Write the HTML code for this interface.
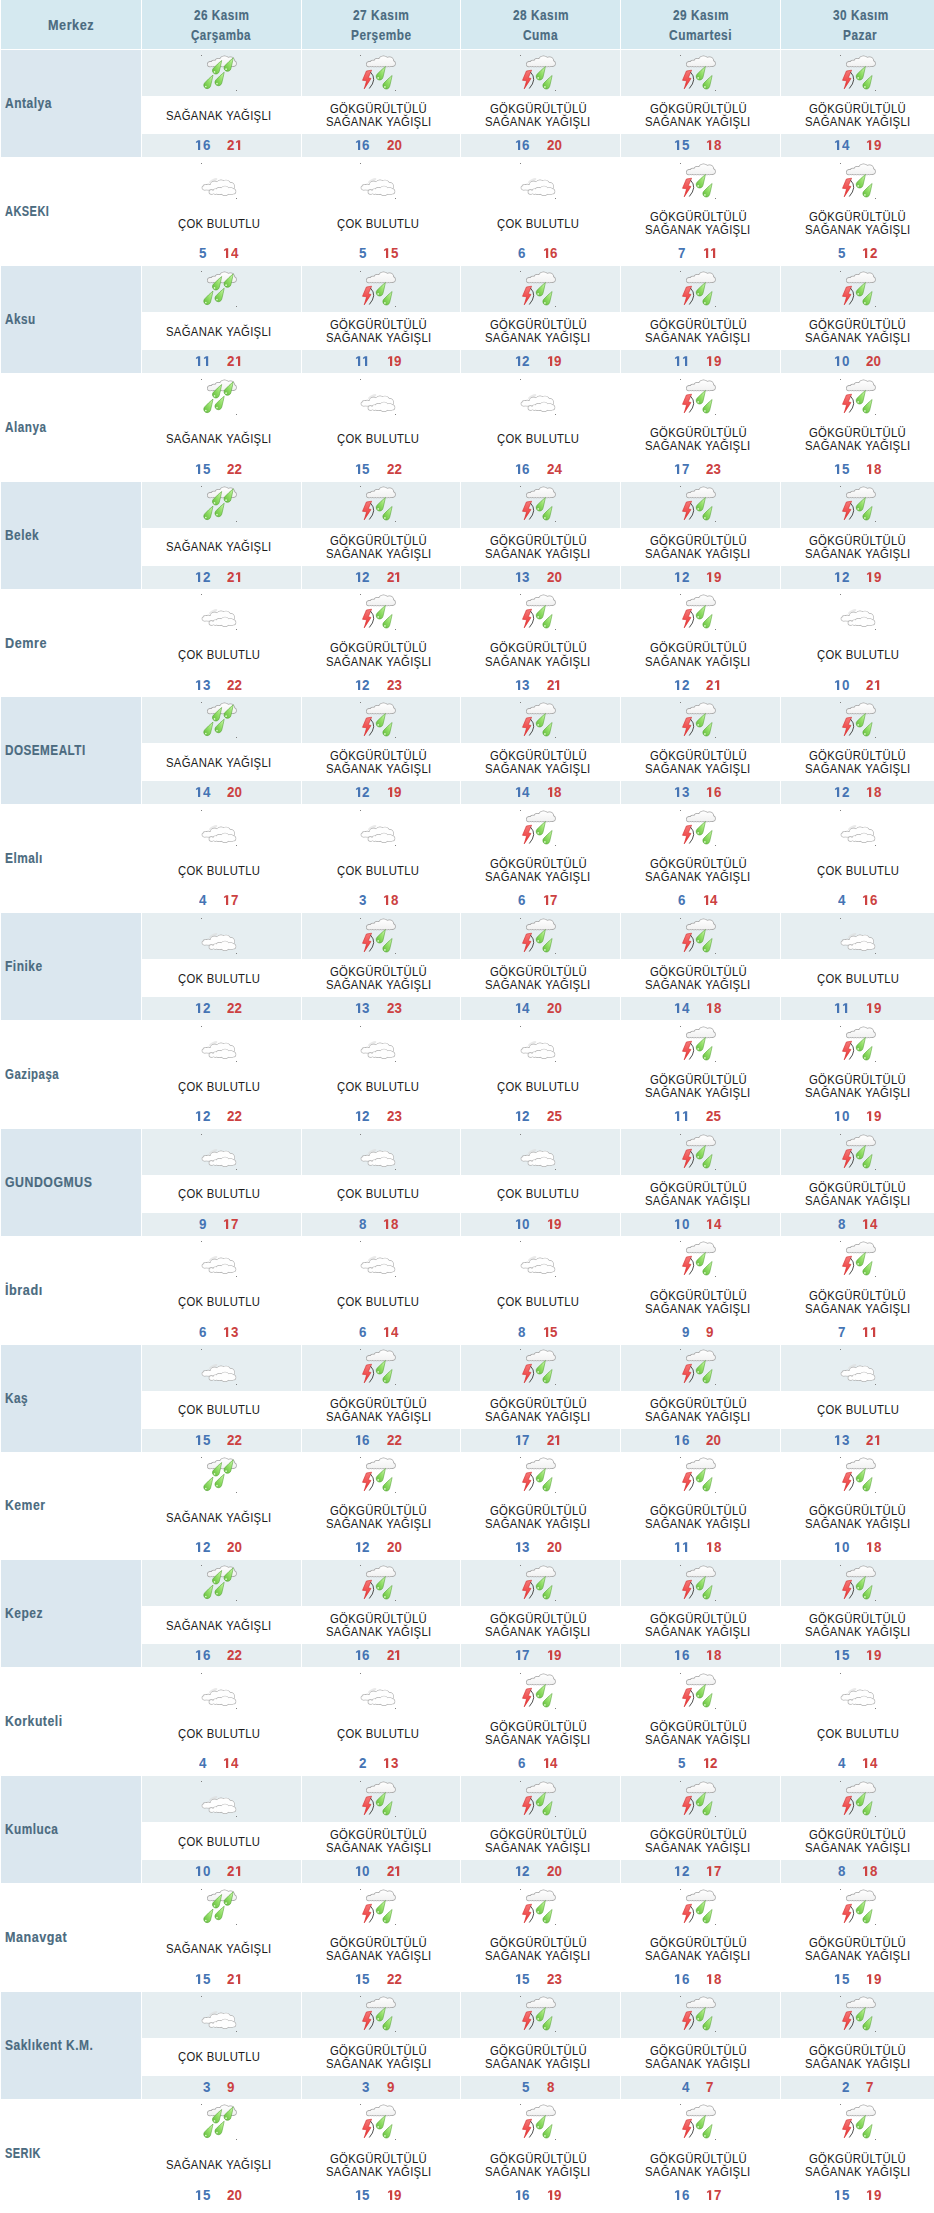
<!DOCTYPE html>
<html lang="tr"><head><meta charset="utf-8"><title>Hava Durumu</title>
<style>
html,body{margin:0;padding:0;background:#fff}
body{width:934px;height:2213px;overflow:hidden;position:relative;font-family:"Liberation Sans",sans-serif}
.a{position:absolute}
.hb{background:#d5e9f0}
.lb{background:#dbe7ef}
.cb{background:#e6eef1}
.h,.l,.d,.lo,.hi{position:absolute;white-space:nowrap;line-height:20px;transform-origin:0 0}
.h,.l{color:#4b6b80;font-weight:bold;font-size:14.3px;letter-spacing:0.6px;-webkit-text-stroke:0.15px #4b6b80}
.d{color:#1a1a1a;font-size:13.0px;letter-spacing:0.35px}
.lo,.hi{font-weight:bold;font-size:14.2px;transform:scaleX(0.9413)}
svg.one{position:absolute;width:8px;height:11px;transform:none;fill:currentColor;overflow:visible}
.lo{color:#4574b4}
.hi{color:#cc4141}
svg.ic{position:absolute;width:36px;height:36px;overflow:visible}
</style></head><body>

<svg width="0" height="0" style="position:absolute"><defs>
<linearGradient id="gd" x1="0" y1="1" x2="1" y2="0"><stop offset="0" stop-color="#5fb83a"/><stop offset="0.5" stop-color="#8fdd64"/><stop offset="1" stop-color="#cdf9ae"/></linearGradient>
<linearGradient id="gr" x1="0" y1="0" x2="0" y2="1"><stop offset="0" stop-color="#f47a7a"/><stop offset="1" stop-color="#ee2a2a"/></linearGradient>
<linearGradient id="gc" gradientUnits="userSpaceOnUse" x1="0" y1="1" x2="0" y2="12"><stop offset="0" stop-color="#ffffff"/><stop offset="1" stop-color="#f0f0f0"/></linearGradient>
<path id="d1" d="M3.0 -9.75 L5.2 -9.75 L5.2 0 L3.0 0 L3.0 -7.75 L0.95 -7.1 L0.95 -8.35 Z"/>
<g id="dr"><path d="M5.80 -10.10 Q4.71 -4.60 3.37 0.75 A3.45 3.45 0 1 1 -2.35 -2.53 Q1.34 -6.54 5.80 -10.10Z" fill="url(#gd)" stroke="#4f9e30" stroke-width="0.55"/><circle cx="-1.4" cy="1.3" r="0.85" fill="#e8ffd8" opacity="0.9"/></g>
<g id="cl"><g fill="#a4a4a4" stroke="#a4a4a4" stroke-width="1.5"><circle cx="9" cy="9.2" r="2.2"/><circle cx="13" cy="8.2" r="2.6"/><circle cx="17.5" cy="7" r="3.3"/><circle cx="23.5" cy="6" r="4.8"/><circle cx="29.5" cy="6" r="3.8"/><circle cx="32.5" cy="8.6" r="2.5"/><circle cx="11.4" cy="10.3" r="1.1"/><circle cx="14" cy="10.4" r="1.1"/><circle cx="16.6" cy="10.4" r="1.1"/><circle cx="19.2" cy="10.4" r="1.1"/><circle cx="21.8" cy="10.4" r="1.1"/><circle cx="24.4" cy="10.4" r="1.1"/><circle cx="27" cy="10.4" r="1.1"/><circle cx="29.6" cy="10.3" r="1.1"/><rect x="9" y="7" width="23.5" height="4.2"/></g><g fill="url(#gc)"><circle cx="9" cy="9.2" r="2.2"/><circle cx="13" cy="8.2" r="2.6"/><circle cx="17.5" cy="7" r="3.3"/><circle cx="23.5" cy="6" r="4.8"/><circle cx="29.5" cy="6" r="3.8"/><circle cx="32.5" cy="8.6" r="2.5"/><circle cx="11.4" cy="10.3" r="1.1"/><circle cx="14" cy="10.4" r="1.1"/><circle cx="16.6" cy="10.4" r="1.1"/><circle cx="19.2" cy="10.4" r="1.1"/><circle cx="21.8" cy="10.4" r="1.1"/><circle cx="24.4" cy="10.4" r="1.1"/><circle cx="27" cy="10.4" r="1.1"/><circle cx="29.6" cy="10.3" r="1.1"/><rect x="9" y="7" width="23.5" height="4.2"/></g></g>
<g id="cc"><g fill="#b2b2b2" stroke="#b2b2b2" stroke-width="1.3"><circle cx="3.2" cy="24.8" r="1.9"/><circle cx="7.3" cy="24.0" r="2.5"/><circle cx="13.5" cy="22.5" r="4"/><circle cx="20" cy="22" r="4.8"/><circle cx="25" cy="22" r="4.7"/><circle cx="29.5" cy="23.5" r="3.8"/><rect x="3.2" y="22" width="27.8" height="4.7"/></g><g fill="#fefefe"><circle cx="3.2" cy="24.8" r="1.9"/><circle cx="7.3" cy="24.0" r="2.5"/><circle cx="13.5" cy="22.5" r="4"/><circle cx="20" cy="22" r="4.8"/><circle cx="25" cy="22" r="4.7"/><circle cx="29.5" cy="23.5" r="3.8"/><rect x="3.2" y="22" width="27.8" height="4.7"/></g><g fill="#b2b2b2" stroke="#b2b2b2" stroke-width="1.3"><circle cx="10.3" cy="29.0" r="2.0"/><circle cx="14.5" cy="28.5" r="2.4"/><circle cx="18.5" cy="28" r="3.3"/><circle cx="24" cy="27.8" r="4.5"/><circle cx="29.5" cy="28.0" r="3.2"/><circle cx="32.3" cy="28.4" r="2.3"/><circle cx="11.7" cy="29.8" r="0.9"/><circle cx="14.2" cy="29.9" r="0.9"/><circle cx="16.7" cy="29.9" r="0.9"/><circle cx="19.2" cy="29.9" r="0.9"/><circle cx="21.7" cy="29.9" r="0.9"/><circle cx="24.2" cy="29.9" r="0.9"/><circle cx="26.7" cy="29.9" r="0.9"/><circle cx="29.2" cy="29.9" r="0.9"/><circle cx="31.5" cy="29.8" r="0.9"/><rect x="10.3" y="28" width="22.0" height="2.4"/></g><g fill="#fefefe"><circle cx="10.3" cy="29.0" r="2.0"/><circle cx="14.5" cy="28.5" r="2.4"/><circle cx="18.5" cy="28" r="3.3"/><circle cx="24" cy="27.8" r="4.5"/><circle cx="29.5" cy="28.0" r="3.2"/><circle cx="32.3" cy="28.4" r="2.3"/><circle cx="11.7" cy="29.8" r="0.9"/><circle cx="14.2" cy="29.9" r="0.9"/><circle cx="16.7" cy="29.9" r="0.9"/><circle cx="19.2" cy="29.9" r="0.9"/><circle cx="21.7" cy="29.9" r="0.9"/><circle cx="24.2" cy="29.9" r="0.9"/><circle cx="26.7" cy="29.9" r="0.9"/><circle cx="29.2" cy="29.9" r="0.9"/><circle cx="31.5" cy="29.8" r="0.9"/><rect x="10.3" y="28" width="22.0" height="2.4"/></g></g>
</defs></svg>

<div class="a hb" style="left:1px;top:0;width:140px;height:49px"></div>
<div class="h" style="left:48.01px;top:15px;transform:scaleX(0.8857)">Merkez</div>
<div class="a hb" style="left:142px;top:0;width:159px;height:49px"></div>
<div class="h" style="left:193.80px;top:5px;transform:scaleX(0.8205)">26 Kasım</div>
<div class="h" style="left:191.09px;top:25px;transform:scaleX(0.8114)">Çarşamba</div>
<div class="a hb" style="left:302px;top:0;width:158px;height:49px"></div>
<div class="h" style="left:353.14px;top:5px;transform:scaleX(0.8327)">27 Kasım</div>
<div class="h" style="left:350.57px;top:25px;transform:scaleX(0.8281)">Perşembe</div>
<div class="a hb" style="left:461px;top:0;width:159px;height:49px"></div>
<div class="h" style="left:513.04px;top:5px;transform:scaleX(0.8281)">28 Kasım</div>
<div class="h" style="left:523.07px;top:25px;transform:scaleX(0.8321)">Cuma</div>
<div class="a hb" style="left:621px;top:0;width:159px;height:49px"></div>
<div class="h" style="left:672.79px;top:5px;transform:scaleX(0.8281)">29 Kasım</div>
<div class="h" style="left:669.27px;top:25px;transform:scaleX(0.8366)">Cumartesi</div>
<div class="a hb" style="left:781px;top:0;width:153px;height:49px"></div>
<div class="h" style="left:832.66px;top:5px;transform:scaleX(0.8263)">30 Kasım</div>
<div class="h" style="left:842.97px;top:25px;transform:scaleX(0.8296)">Pazar</div>
<div class="a lb" style="left:1px;top:50px;width:140px;height:107px"></div>
<div class="a cb" style="left:142px;top:50px;width:159px;height:46px"></div>
<div class="a cb" style="left:142px;top:134px;width:159px;height:23px"></div>
<div class="a cb" style="left:302px;top:50px;width:158px;height:46px"></div>
<div class="a cb" style="left:302px;top:134px;width:158px;height:23px"></div>
<div class="a cb" style="left:461px;top:50px;width:159px;height:46px"></div>
<div class="a cb" style="left:461px;top:134px;width:159px;height:23px"></div>
<div class="a cb" style="left:621px;top:50px;width:159px;height:46px"></div>
<div class="a cb" style="left:621px;top:134px;width:159px;height:23px"></div>
<div class="a cb" style="left:781px;top:50px;width:153px;height:46px"></div>
<div class="a cb" style="left:781px;top:134px;width:153px;height:23px"></div>
<div class="l" style="left:5.44px;top:93px;transform:scaleX(0.8410)">Antalya</div>
<svg class="ic" style="left:201px;top:55px" viewBox="0 0 36 36"><rect x="0" y="0" width="1" height="1" fill="#808080"/><rect x="35" y="35" width="1" height="1" fill="#808080"/><use href="#cl"/><use href="#dr" x="14.9" y="15.6"/><use href="#dr" x="26.5" y="12.9"/><use href="#dr" x="6.2" y="30.2"/><use href="#dr" x="17.4" y="27.3"/></svg>
<div class="d" style="left:166.18px;top:106px;transform:scaleX(0.8712)">SAĞANAK YAĞIŞLI</div>
<svg class="one lo" style="left:195.07px;top:139px" viewBox="0 -11 8 11"><use href="#d1"/></svg>
<div class="lo" style="left:202.50px;top:135px">6</div>
<div class="hi" style="left:227.17px;top:135px">2</div>
<svg class="one hi" style="left:234.60px;top:139px" viewBox="0 -11 8 11"><use href="#d1"/></svg>
<svg class="ic" style="left:360px;top:55px" viewBox="0 0 36 36"><rect x="0" y="0" width="1" height="1" fill="#808080"/><rect x="35" y="35" width="1" height="1" fill="#808080"/><use href="#cl"/><path d="M6.4 16.0 L11.6 15.2 L8.3 22.7 L11.0 23.5 L4.2 33.9 L6.6 25.8 L2.5 25.3 Z" fill="url(#gr)" stroke="#d42c2c" stroke-width="0.6" stroke-linejoin="round"/><path d="M10.6 17.2 Q17.4 24.2 9.3 33.5" fill="none" stroke="#3c3c3c" stroke-width="0.9"/><use href="#dr" x="19.6" y="21.6"/><use href="#dr" x="26.3" y="30.6"/></svg>
<div class="d" style="left:330.08px;top:99px;transform:scaleX(0.8700)">GÖKGÜRÜLTÜLÜ</div>
<div class="d" style="left:325.73px;top:112px;transform:scaleX(0.8712)">SAĞANAK YAĞIŞLI</div>
<svg class="one lo" style="left:354.82px;top:139px" viewBox="0 -11 8 11"><use href="#d1"/></svg>
<div class="lo" style="left:362.25px;top:135px">6</div>
<div class="hi" style="left:386.92px;top:135px">20</div>
<svg class="ic" style="left:520px;top:55px" viewBox="0 0 36 36"><rect x="0" y="0" width="1" height="1" fill="#808080"/><rect x="35" y="35" width="1" height="1" fill="#808080"/><use href="#cl"/><path d="M6.4 16.0 L11.6 15.2 L8.3 22.7 L11.0 23.5 L4.2 33.9 L6.6 25.8 L2.5 25.3 Z" fill="url(#gr)" stroke="#d42c2c" stroke-width="0.6" stroke-linejoin="round"/><path d="M10.6 17.2 Q17.4 24.2 9.3 33.5" fill="none" stroke="#3c3c3c" stroke-width="0.9"/><use href="#dr" x="19.6" y="21.6"/><use href="#dr" x="26.3" y="30.6"/></svg>
<div class="d" style="left:489.83px;top:99px;transform:scaleX(0.8700)">GÖKGÜRÜLTÜLÜ</div>
<div class="d" style="left:485.48px;top:112px;transform:scaleX(0.8712)">SAĞANAK YAĞIŞLI</div>
<svg class="one lo" style="left:514.57px;top:139px" viewBox="0 -11 8 11"><use href="#d1"/></svg>
<div class="lo" style="left:522.00px;top:135px">6</div>
<div class="hi" style="left:546.67px;top:135px">20</div>
<svg class="ic" style="left:680px;top:55px" viewBox="0 0 36 36"><rect x="0" y="0" width="1" height="1" fill="#808080"/><rect x="35" y="35" width="1" height="1" fill="#808080"/><use href="#cl"/><path d="M6.4 16.0 L11.6 15.2 L8.3 22.7 L11.0 23.5 L4.2 33.9 L6.6 25.8 L2.5 25.3 Z" fill="url(#gr)" stroke="#d42c2c" stroke-width="0.6" stroke-linejoin="round"/><path d="M10.6 17.2 Q17.4 24.2 9.3 33.5" fill="none" stroke="#3c3c3c" stroke-width="0.9"/><use href="#dr" x="19.6" y="21.6"/><use href="#dr" x="26.3" y="30.6"/></svg>
<div class="d" style="left:649.58px;top:99px;transform:scaleX(0.8700)">GÖKGÜRÜLTÜLÜ</div>
<div class="d" style="left:645.23px;top:112px;transform:scaleX(0.8712)">SAĞANAK YAĞIŞLI</div>
<svg class="one lo" style="left:674.32px;top:139px" viewBox="0 -11 8 11"><use href="#d1"/></svg>
<div class="lo" style="left:681.75px;top:135px">5</div>
<svg class="one hi" style="left:706.42px;top:139px" viewBox="0 -11 8 11"><use href="#d1"/></svg>
<div class="hi" style="left:713.85px;top:135px">8</div>
<svg class="ic" style="left:840px;top:55px" viewBox="0 0 36 36"><rect x="0" y="0" width="1" height="1" fill="#808080"/><rect x="35" y="35" width="1" height="1" fill="#808080"/><use href="#cl"/><path d="M6.4 16.0 L11.6 15.2 L8.3 22.7 L11.0 23.5 L4.2 33.9 L6.6 25.8 L2.5 25.3 Z" fill="url(#gr)" stroke="#d42c2c" stroke-width="0.6" stroke-linejoin="round"/><path d="M10.6 17.2 Q17.4 24.2 9.3 33.5" fill="none" stroke="#3c3c3c" stroke-width="0.9"/><use href="#dr" x="19.6" y="21.6"/><use href="#dr" x="26.3" y="30.6"/></svg>
<div class="d" style="left:809.33px;top:99px;transform:scaleX(0.8700)">GÖKGÜRÜLTÜLÜ</div>
<div class="d" style="left:804.98px;top:112px;transform:scaleX(0.8712)">SAĞANAK YAĞIŞLI</div>
<svg class="one lo" style="left:834.07px;top:139px" viewBox="0 -11 8 11"><use href="#d1"/></svg>
<div class="lo" style="left:841.50px;top:135px">4</div>
<svg class="one hi" style="left:866.17px;top:139px" viewBox="0 -11 8 11"><use href="#d1"/></svg>
<div class="hi" style="left:873.60px;top:135px">9</div>
<div class="l" style="left:5.47px;top:201px;transform:scaleX(0.7695)">AKSEKI</div>
<svg class="ic" style="left:201px;top:163px" viewBox="0 0 36 36"><rect x="0" y="0" width="1" height="1" fill="#808080"/><rect x="35" y="35" width="1" height="1" fill="#808080"/><ellipse cx="12.2" cy="17.6" rx="4.6" ry="1.6" transform="rotate(-28 12.2 17.6)" fill="#dcdcdc" opacity="0.6"/><use href="#cc"/></svg>
<div class="d" style="left:177.74px;top:214px;transform:scaleX(0.8674)">ÇOK BULUTLU</div>
<div class="lo" style="left:198.78px;top:243px">5</div>
<svg class="one hi" style="left:223.45px;top:247px" viewBox="0 -11 8 11"><use href="#d1"/></svg>
<div class="hi" style="left:230.88px;top:243px">4</div>
<svg class="ic" style="left:360px;top:163px" viewBox="0 0 36 36"><rect x="0" y="0" width="1" height="1" fill="#808080"/><rect x="35" y="35" width="1" height="1" fill="#808080"/><ellipse cx="12.2" cy="17.6" rx="4.6" ry="1.6" transform="rotate(-28 12.2 17.6)" fill="#dcdcdc" opacity="0.6"/><use href="#cc"/></svg>
<div class="d" style="left:337.49px;top:214px;transform:scaleX(0.8674)">ÇOK BULUTLU</div>
<div class="lo" style="left:358.53px;top:243px">5</div>
<svg class="one hi" style="left:383.20px;top:247px" viewBox="0 -11 8 11"><use href="#d1"/></svg>
<div class="hi" style="left:390.63px;top:243px">5</div>
<svg class="ic" style="left:520px;top:163px" viewBox="0 0 36 36"><rect x="0" y="0" width="1" height="1" fill="#808080"/><rect x="35" y="35" width="1" height="1" fill="#808080"/><ellipse cx="12.2" cy="17.6" rx="4.6" ry="1.6" transform="rotate(-28 12.2 17.6)" fill="#dcdcdc" opacity="0.6"/><use href="#cc"/></svg>
<div class="d" style="left:497.24px;top:214px;transform:scaleX(0.8674)">ÇOK BULUTLU</div>
<div class="lo" style="left:518.28px;top:243px">6</div>
<svg class="one hi" style="left:542.95px;top:247px" viewBox="0 -11 8 11"><use href="#d1"/></svg>
<div class="hi" style="left:550.38px;top:243px">6</div>
<svg class="ic" style="left:680px;top:163px" viewBox="0 0 36 36"><rect x="0" y="0" width="1" height="1" fill="#808080"/><rect x="35" y="35" width="1" height="1" fill="#808080"/><use href="#cl"/><path d="M6.4 16.0 L11.6 15.2 L8.3 22.7 L11.0 23.5 L4.2 33.9 L6.6 25.8 L2.5 25.3 Z" fill="url(#gr)" stroke="#d42c2c" stroke-width="0.6" stroke-linejoin="round"/><path d="M10.6 17.2 Q17.4 24.2 9.3 33.5" fill="none" stroke="#3c3c3c" stroke-width="0.9"/><use href="#dr" x="19.6" y="21.6"/><use href="#dr" x="26.3" y="30.6"/></svg>
<div class="d" style="left:649.58px;top:207px;transform:scaleX(0.8700)">GÖKGÜRÜLTÜLÜ</div>
<div class="d" style="left:645.23px;top:220px;transform:scaleX(0.8712)">SAĞANAK YAĞIŞLI</div>
<div class="lo" style="left:678.03px;top:243px">7</div>
<svg class="one hi" style="left:702.70px;top:247px" viewBox="0 -11 8 11"><use href="#d1"/></svg>
<svg class="one hi" style="left:710.13px;top:247px" viewBox="0 -11 8 11"><use href="#d1"/></svg>
<svg class="ic" style="left:840px;top:163px" viewBox="0 0 36 36"><rect x="0" y="0" width="1" height="1" fill="#808080"/><rect x="35" y="35" width="1" height="1" fill="#808080"/><use href="#cl"/><path d="M6.4 16.0 L11.6 15.2 L8.3 22.7 L11.0 23.5 L4.2 33.9 L6.6 25.8 L2.5 25.3 Z" fill="url(#gr)" stroke="#d42c2c" stroke-width="0.6" stroke-linejoin="round"/><path d="M10.6 17.2 Q17.4 24.2 9.3 33.5" fill="none" stroke="#3c3c3c" stroke-width="0.9"/><use href="#dr" x="19.6" y="21.6"/><use href="#dr" x="26.3" y="30.6"/></svg>
<div class="d" style="left:809.33px;top:207px;transform:scaleX(0.8700)">GÖKGÜRÜLTÜLÜ</div>
<div class="d" style="left:804.98px;top:220px;transform:scaleX(0.8712)">SAĞANAK YAĞIŞLI</div>
<div class="lo" style="left:837.78px;top:243px">5</div>
<svg class="one hi" style="left:862.45px;top:247px" viewBox="0 -11 8 11"><use href="#d1"/></svg>
<div class="hi" style="left:869.88px;top:243px">2</div>
<div class="a lb" style="left:1px;top:266px;width:140px;height:107px"></div>
<div class="a cb" style="left:142px;top:266px;width:159px;height:46px"></div>
<div class="a cb" style="left:142px;top:350px;width:159px;height:23px"></div>
<div class="a cb" style="left:302px;top:266px;width:158px;height:46px"></div>
<div class="a cb" style="left:302px;top:350px;width:158px;height:23px"></div>
<div class="a cb" style="left:461px;top:266px;width:159px;height:46px"></div>
<div class="a cb" style="left:461px;top:350px;width:159px;height:23px"></div>
<div class="a cb" style="left:621px;top:266px;width:159px;height:46px"></div>
<div class="a cb" style="left:621px;top:350px;width:159px;height:23px"></div>
<div class="a cb" style="left:781px;top:266px;width:153px;height:46px"></div>
<div class="a cb" style="left:781px;top:350px;width:153px;height:23px"></div>
<div class="l" style="left:5.45px;top:309px;transform:scaleX(0.8219)">Aksu</div>
<svg class="ic" style="left:201px;top:271px" viewBox="0 0 36 36"><rect x="0" y="0" width="1" height="1" fill="#808080"/><rect x="35" y="35" width="1" height="1" fill="#808080"/><use href="#cl"/><use href="#dr" x="14.9" y="15.6"/><use href="#dr" x="26.5" y="12.9"/><use href="#dr" x="6.2" y="30.2"/><use href="#dr" x="17.4" y="27.3"/></svg>
<div class="d" style="left:166.18px;top:322px;transform:scaleX(0.8712)">SAĞANAK YAĞIŞLI</div>
<svg class="one lo" style="left:195.07px;top:355px" viewBox="0 -11 8 11"><use href="#d1"/></svg>
<svg class="one lo" style="left:202.50px;top:355px" viewBox="0 -11 8 11"><use href="#d1"/></svg>
<div class="hi" style="left:227.17px;top:351px">2</div>
<svg class="one hi" style="left:234.60px;top:355px" viewBox="0 -11 8 11"><use href="#d1"/></svg>
<svg class="ic" style="left:360px;top:271px" viewBox="0 0 36 36"><rect x="0" y="0" width="1" height="1" fill="#808080"/><rect x="35" y="35" width="1" height="1" fill="#808080"/><use href="#cl"/><path d="M6.4 16.0 L11.6 15.2 L8.3 22.7 L11.0 23.5 L4.2 33.9 L6.6 25.8 L2.5 25.3 Z" fill="url(#gr)" stroke="#d42c2c" stroke-width="0.6" stroke-linejoin="round"/><path d="M10.6 17.2 Q17.4 24.2 9.3 33.5" fill="none" stroke="#3c3c3c" stroke-width="0.9"/><use href="#dr" x="19.6" y="21.6"/><use href="#dr" x="26.3" y="30.6"/></svg>
<div class="d" style="left:330.08px;top:315px;transform:scaleX(0.8700)">GÖKGÜRÜLTÜLÜ</div>
<div class="d" style="left:325.73px;top:328px;transform:scaleX(0.8712)">SAĞANAK YAĞIŞLI</div>
<svg class="one lo" style="left:354.82px;top:355px" viewBox="0 -11 8 11"><use href="#d1"/></svg>
<svg class="one lo" style="left:362.25px;top:355px" viewBox="0 -11 8 11"><use href="#d1"/></svg>
<svg class="one hi" style="left:386.92px;top:355px" viewBox="0 -11 8 11"><use href="#d1"/></svg>
<div class="hi" style="left:394.35px;top:351px">9</div>
<svg class="ic" style="left:520px;top:271px" viewBox="0 0 36 36"><rect x="0" y="0" width="1" height="1" fill="#808080"/><rect x="35" y="35" width="1" height="1" fill="#808080"/><use href="#cl"/><path d="M6.4 16.0 L11.6 15.2 L8.3 22.7 L11.0 23.5 L4.2 33.9 L6.6 25.8 L2.5 25.3 Z" fill="url(#gr)" stroke="#d42c2c" stroke-width="0.6" stroke-linejoin="round"/><path d="M10.6 17.2 Q17.4 24.2 9.3 33.5" fill="none" stroke="#3c3c3c" stroke-width="0.9"/><use href="#dr" x="19.6" y="21.6"/><use href="#dr" x="26.3" y="30.6"/></svg>
<div class="d" style="left:489.83px;top:315px;transform:scaleX(0.8700)">GÖKGÜRÜLTÜLÜ</div>
<div class="d" style="left:485.48px;top:328px;transform:scaleX(0.8712)">SAĞANAK YAĞIŞLI</div>
<svg class="one lo" style="left:514.57px;top:355px" viewBox="0 -11 8 11"><use href="#d1"/></svg>
<div class="lo" style="left:522.00px;top:351px">2</div>
<svg class="one hi" style="left:546.67px;top:355px" viewBox="0 -11 8 11"><use href="#d1"/></svg>
<div class="hi" style="left:554.10px;top:351px">9</div>
<svg class="ic" style="left:680px;top:271px" viewBox="0 0 36 36"><rect x="0" y="0" width="1" height="1" fill="#808080"/><rect x="35" y="35" width="1" height="1" fill="#808080"/><use href="#cl"/><path d="M6.4 16.0 L11.6 15.2 L8.3 22.7 L11.0 23.5 L4.2 33.9 L6.6 25.8 L2.5 25.3 Z" fill="url(#gr)" stroke="#d42c2c" stroke-width="0.6" stroke-linejoin="round"/><path d="M10.6 17.2 Q17.4 24.2 9.3 33.5" fill="none" stroke="#3c3c3c" stroke-width="0.9"/><use href="#dr" x="19.6" y="21.6"/><use href="#dr" x="26.3" y="30.6"/></svg>
<div class="d" style="left:649.58px;top:315px;transform:scaleX(0.8700)">GÖKGÜRÜLTÜLÜ</div>
<div class="d" style="left:645.23px;top:328px;transform:scaleX(0.8712)">SAĞANAK YAĞIŞLI</div>
<svg class="one lo" style="left:674.32px;top:355px" viewBox="0 -11 8 11"><use href="#d1"/></svg>
<svg class="one lo" style="left:681.75px;top:355px" viewBox="0 -11 8 11"><use href="#d1"/></svg>
<svg class="one hi" style="left:706.42px;top:355px" viewBox="0 -11 8 11"><use href="#d1"/></svg>
<div class="hi" style="left:713.85px;top:351px">9</div>
<svg class="ic" style="left:840px;top:271px" viewBox="0 0 36 36"><rect x="0" y="0" width="1" height="1" fill="#808080"/><rect x="35" y="35" width="1" height="1" fill="#808080"/><use href="#cl"/><path d="M6.4 16.0 L11.6 15.2 L8.3 22.7 L11.0 23.5 L4.2 33.9 L6.6 25.8 L2.5 25.3 Z" fill="url(#gr)" stroke="#d42c2c" stroke-width="0.6" stroke-linejoin="round"/><path d="M10.6 17.2 Q17.4 24.2 9.3 33.5" fill="none" stroke="#3c3c3c" stroke-width="0.9"/><use href="#dr" x="19.6" y="21.6"/><use href="#dr" x="26.3" y="30.6"/></svg>
<div class="d" style="left:809.33px;top:315px;transform:scaleX(0.8700)">GÖKGÜRÜLTÜLÜ</div>
<div class="d" style="left:804.98px;top:328px;transform:scaleX(0.8712)">SAĞANAK YAĞIŞLI</div>
<svg class="one lo" style="left:834.07px;top:355px" viewBox="0 -11 8 11"><use href="#d1"/></svg>
<div class="lo" style="left:841.50px;top:351px">0</div>
<div class="hi" style="left:866.17px;top:351px">20</div>
<div class="l" style="left:5.45px;top:417px;transform:scaleX(0.8226)">Alanya</div>
<svg class="ic" style="left:201px;top:379px" viewBox="0 0 36 36"><rect x="0" y="0" width="1" height="1" fill="#808080"/><rect x="35" y="35" width="1" height="1" fill="#808080"/><use href="#cl"/><use href="#dr" x="14.9" y="15.6"/><use href="#dr" x="26.5" y="12.9"/><use href="#dr" x="6.2" y="30.2"/><use href="#dr" x="17.4" y="27.3"/></svg>
<div class="d" style="left:166.18px;top:429px;transform:scaleX(0.8712)">SAĞANAK YAĞIŞLI</div>
<svg class="one lo" style="left:195.07px;top:463px" viewBox="0 -11 8 11"><use href="#d1"/></svg>
<div class="lo" style="left:202.50px;top:459px">5</div>
<div class="hi" style="left:227.17px;top:459px">22</div>
<svg class="ic" style="left:360px;top:379px" viewBox="0 0 36 36"><rect x="0" y="0" width="1" height="1" fill="#808080"/><rect x="35" y="35" width="1" height="1" fill="#808080"/><ellipse cx="12.2" cy="17.6" rx="4.6" ry="1.6" transform="rotate(-28 12.2 17.6)" fill="#dcdcdc" opacity="0.6"/><use href="#cc"/></svg>
<div class="d" style="left:337.49px;top:429px;transform:scaleX(0.8674)">ÇOK BULUTLU</div>
<svg class="one lo" style="left:354.82px;top:463px" viewBox="0 -11 8 11"><use href="#d1"/></svg>
<div class="lo" style="left:362.25px;top:459px">5</div>
<div class="hi" style="left:386.92px;top:459px">22</div>
<svg class="ic" style="left:520px;top:379px" viewBox="0 0 36 36"><rect x="0" y="0" width="1" height="1" fill="#808080"/><rect x="35" y="35" width="1" height="1" fill="#808080"/><ellipse cx="12.2" cy="17.6" rx="4.6" ry="1.6" transform="rotate(-28 12.2 17.6)" fill="#dcdcdc" opacity="0.6"/><use href="#cc"/></svg>
<div class="d" style="left:497.24px;top:429px;transform:scaleX(0.8674)">ÇOK BULUTLU</div>
<svg class="one lo" style="left:514.57px;top:463px" viewBox="0 -11 8 11"><use href="#d1"/></svg>
<div class="lo" style="left:522.00px;top:459px">6</div>
<div class="hi" style="left:546.67px;top:459px">24</div>
<svg class="ic" style="left:680px;top:379px" viewBox="0 0 36 36"><rect x="0" y="0" width="1" height="1" fill="#808080"/><rect x="35" y="35" width="1" height="1" fill="#808080"/><use href="#cl"/><path d="M6.4 16.0 L11.6 15.2 L8.3 22.7 L11.0 23.5 L4.2 33.9 L6.6 25.8 L2.5 25.3 Z" fill="url(#gr)" stroke="#d42c2c" stroke-width="0.6" stroke-linejoin="round"/><path d="M10.6 17.2 Q17.4 24.2 9.3 33.5" fill="none" stroke="#3c3c3c" stroke-width="0.9"/><use href="#dr" x="19.6" y="21.6"/><use href="#dr" x="26.3" y="30.6"/></svg>
<div class="d" style="left:649.58px;top:423px;transform:scaleX(0.8700)">GÖKGÜRÜLTÜLÜ</div>
<div class="d" style="left:645.23px;top:436px;transform:scaleX(0.8712)">SAĞANAK YAĞIŞLI</div>
<svg class="one lo" style="left:674.32px;top:463px" viewBox="0 -11 8 11"><use href="#d1"/></svg>
<div class="lo" style="left:681.75px;top:459px">7</div>
<div class="hi" style="left:706.42px;top:459px">23</div>
<svg class="ic" style="left:840px;top:379px" viewBox="0 0 36 36"><rect x="0" y="0" width="1" height="1" fill="#808080"/><rect x="35" y="35" width="1" height="1" fill="#808080"/><use href="#cl"/><path d="M6.4 16.0 L11.6 15.2 L8.3 22.7 L11.0 23.5 L4.2 33.9 L6.6 25.8 L2.5 25.3 Z" fill="url(#gr)" stroke="#d42c2c" stroke-width="0.6" stroke-linejoin="round"/><path d="M10.6 17.2 Q17.4 24.2 9.3 33.5" fill="none" stroke="#3c3c3c" stroke-width="0.9"/><use href="#dr" x="19.6" y="21.6"/><use href="#dr" x="26.3" y="30.6"/></svg>
<div class="d" style="left:809.33px;top:423px;transform:scaleX(0.8700)">GÖKGÜRÜLTÜLÜ</div>
<div class="d" style="left:804.98px;top:436px;transform:scaleX(0.8712)">SAĞANAK YAĞIŞLI</div>
<svg class="one lo" style="left:834.07px;top:463px" viewBox="0 -11 8 11"><use href="#d1"/></svg>
<div class="lo" style="left:841.50px;top:459px">5</div>
<svg class="one hi" style="left:866.17px;top:463px" viewBox="0 -11 8 11"><use href="#d1"/></svg>
<div class="hi" style="left:873.60px;top:459px">8</div>
<div class="a lb" style="left:1px;top:482px;width:140px;height:107px"></div>
<div class="a cb" style="left:142px;top:482px;width:159px;height:46px"></div>
<div class="a cb" style="left:142px;top:566px;width:159px;height:23px"></div>
<div class="a cb" style="left:302px;top:482px;width:158px;height:46px"></div>
<div class="a cb" style="left:302px;top:566px;width:158px;height:23px"></div>
<div class="a cb" style="left:461px;top:482px;width:159px;height:46px"></div>
<div class="a cb" style="left:461px;top:566px;width:159px;height:23px"></div>
<div class="a cb" style="left:621px;top:482px;width:159px;height:46px"></div>
<div class="a cb" style="left:621px;top:566px;width:159px;height:23px"></div>
<div class="a cb" style="left:781px;top:482px;width:153px;height:46px"></div>
<div class="a cb" style="left:781px;top:566px;width:153px;height:23px"></div>
<div class="l" style="left:4.97px;top:525px;transform:scaleX(0.8287)">Belek</div>
<svg class="ic" style="left:201px;top:486px" viewBox="0 0 36 36"><rect x="0" y="0" width="1" height="1" fill="#808080"/><rect x="35" y="35" width="1" height="1" fill="#808080"/><use href="#cl"/><use href="#dr" x="14.9" y="15.6"/><use href="#dr" x="26.5" y="12.9"/><use href="#dr" x="6.2" y="30.2"/><use href="#dr" x="17.4" y="27.3"/></svg>
<div class="d" style="left:166.18px;top:537px;transform:scaleX(0.8712)">SAĞANAK YAĞIŞLI</div>
<svg class="one lo" style="left:195.07px;top:571px" viewBox="0 -11 8 11"><use href="#d1"/></svg>
<div class="lo" style="left:202.50px;top:567px">2</div>
<div class="hi" style="left:227.17px;top:567px">2</div>
<svg class="one hi" style="left:234.60px;top:571px" viewBox="0 -11 8 11"><use href="#d1"/></svg>
<svg class="ic" style="left:360px;top:486px" viewBox="0 0 36 36"><rect x="0" y="0" width="1" height="1" fill="#808080"/><rect x="35" y="35" width="1" height="1" fill="#808080"/><use href="#cl"/><path d="M6.4 16.0 L11.6 15.2 L8.3 22.7 L11.0 23.5 L4.2 33.9 L6.6 25.8 L2.5 25.3 Z" fill="url(#gr)" stroke="#d42c2c" stroke-width="0.6" stroke-linejoin="round"/><path d="M10.6 17.2 Q17.4 24.2 9.3 33.5" fill="none" stroke="#3c3c3c" stroke-width="0.9"/><use href="#dr" x="19.6" y="21.6"/><use href="#dr" x="26.3" y="30.6"/></svg>
<div class="d" style="left:330.08px;top:531px;transform:scaleX(0.8700)">GÖKGÜRÜLTÜLÜ</div>
<div class="d" style="left:325.73px;top:544px;transform:scaleX(0.8712)">SAĞANAK YAĞIŞLI</div>
<svg class="one lo" style="left:354.82px;top:571px" viewBox="0 -11 8 11"><use href="#d1"/></svg>
<div class="lo" style="left:362.25px;top:567px">2</div>
<div class="hi" style="left:386.92px;top:567px">2</div>
<svg class="one hi" style="left:394.35px;top:571px" viewBox="0 -11 8 11"><use href="#d1"/></svg>
<svg class="ic" style="left:520px;top:486px" viewBox="0 0 36 36"><rect x="0" y="0" width="1" height="1" fill="#808080"/><rect x="35" y="35" width="1" height="1" fill="#808080"/><use href="#cl"/><path d="M6.4 16.0 L11.6 15.2 L8.3 22.7 L11.0 23.5 L4.2 33.9 L6.6 25.8 L2.5 25.3 Z" fill="url(#gr)" stroke="#d42c2c" stroke-width="0.6" stroke-linejoin="round"/><path d="M10.6 17.2 Q17.4 24.2 9.3 33.5" fill="none" stroke="#3c3c3c" stroke-width="0.9"/><use href="#dr" x="19.6" y="21.6"/><use href="#dr" x="26.3" y="30.6"/></svg>
<div class="d" style="left:489.83px;top:531px;transform:scaleX(0.8700)">GÖKGÜRÜLTÜLÜ</div>
<div class="d" style="left:485.48px;top:544px;transform:scaleX(0.8712)">SAĞANAK YAĞIŞLI</div>
<svg class="one lo" style="left:514.57px;top:571px" viewBox="0 -11 8 11"><use href="#d1"/></svg>
<div class="lo" style="left:522.00px;top:567px">3</div>
<div class="hi" style="left:546.67px;top:567px">20</div>
<svg class="ic" style="left:680px;top:486px" viewBox="0 0 36 36"><rect x="0" y="0" width="1" height="1" fill="#808080"/><rect x="35" y="35" width="1" height="1" fill="#808080"/><use href="#cl"/><path d="M6.4 16.0 L11.6 15.2 L8.3 22.7 L11.0 23.5 L4.2 33.9 L6.6 25.8 L2.5 25.3 Z" fill="url(#gr)" stroke="#d42c2c" stroke-width="0.6" stroke-linejoin="round"/><path d="M10.6 17.2 Q17.4 24.2 9.3 33.5" fill="none" stroke="#3c3c3c" stroke-width="0.9"/><use href="#dr" x="19.6" y="21.6"/><use href="#dr" x="26.3" y="30.6"/></svg>
<div class="d" style="left:649.58px;top:531px;transform:scaleX(0.8700)">GÖKGÜRÜLTÜLÜ</div>
<div class="d" style="left:645.23px;top:544px;transform:scaleX(0.8712)">SAĞANAK YAĞIŞLI</div>
<svg class="one lo" style="left:674.32px;top:571px" viewBox="0 -11 8 11"><use href="#d1"/></svg>
<div class="lo" style="left:681.75px;top:567px">2</div>
<svg class="one hi" style="left:706.42px;top:571px" viewBox="0 -11 8 11"><use href="#d1"/></svg>
<div class="hi" style="left:713.85px;top:567px">9</div>
<svg class="ic" style="left:840px;top:486px" viewBox="0 0 36 36"><rect x="0" y="0" width="1" height="1" fill="#808080"/><rect x="35" y="35" width="1" height="1" fill="#808080"/><use href="#cl"/><path d="M6.4 16.0 L11.6 15.2 L8.3 22.7 L11.0 23.5 L4.2 33.9 L6.6 25.8 L2.5 25.3 Z" fill="url(#gr)" stroke="#d42c2c" stroke-width="0.6" stroke-linejoin="round"/><path d="M10.6 17.2 Q17.4 24.2 9.3 33.5" fill="none" stroke="#3c3c3c" stroke-width="0.9"/><use href="#dr" x="19.6" y="21.6"/><use href="#dr" x="26.3" y="30.6"/></svg>
<div class="d" style="left:809.33px;top:531px;transform:scaleX(0.8700)">GÖKGÜRÜLTÜLÜ</div>
<div class="d" style="left:804.98px;top:544px;transform:scaleX(0.8712)">SAĞANAK YAĞIŞLI</div>
<svg class="one lo" style="left:834.07px;top:571px" viewBox="0 -11 8 11"><use href="#d1"/></svg>
<div class="lo" style="left:841.50px;top:567px">2</div>
<svg class="one hi" style="left:866.17px;top:571px" viewBox="0 -11 8 11"><use href="#d1"/></svg>
<div class="hi" style="left:873.60px;top:567px">9</div>
<div class="l" style="left:4.91px;top:633px;transform:scaleX(0.8846)">Demre</div>
<svg class="ic" style="left:201px;top:594px" viewBox="0 0 36 36"><rect x="0" y="0" width="1" height="1" fill="#808080"/><rect x="35" y="35" width="1" height="1" fill="#808080"/><ellipse cx="12.2" cy="17.6" rx="4.6" ry="1.6" transform="rotate(-28 12.2 17.6)" fill="#dcdcdc" opacity="0.6"/><use href="#cc"/></svg>
<div class="d" style="left:177.74px;top:645px;transform:scaleX(0.8674)">ÇOK BULUTLU</div>
<svg class="one lo" style="left:195.07px;top:679px" viewBox="0 -11 8 11"><use href="#d1"/></svg>
<div class="lo" style="left:202.50px;top:675px">3</div>
<div class="hi" style="left:227.17px;top:675px">22</div>
<svg class="ic" style="left:360px;top:594px" viewBox="0 0 36 36"><rect x="0" y="0" width="1" height="1" fill="#808080"/><rect x="35" y="35" width="1" height="1" fill="#808080"/><use href="#cl"/><path d="M6.4 16.0 L11.6 15.2 L8.3 22.7 L11.0 23.5 L4.2 33.9 L6.6 25.8 L2.5 25.3 Z" fill="url(#gr)" stroke="#d42c2c" stroke-width="0.6" stroke-linejoin="round"/><path d="M10.6 17.2 Q17.4 24.2 9.3 33.5" fill="none" stroke="#3c3c3c" stroke-width="0.9"/><use href="#dr" x="19.6" y="21.6"/><use href="#dr" x="26.3" y="30.6"/></svg>
<div class="d" style="left:330.08px;top:638px;transform:scaleX(0.8700)">GÖKGÜRÜLTÜLÜ</div>
<div class="d" style="left:325.73px;top:652px;transform:scaleX(0.8712)">SAĞANAK YAĞIŞLI</div>
<svg class="one lo" style="left:354.82px;top:679px" viewBox="0 -11 8 11"><use href="#d1"/></svg>
<div class="lo" style="left:362.25px;top:675px">2</div>
<div class="hi" style="left:386.92px;top:675px">23</div>
<svg class="ic" style="left:520px;top:594px" viewBox="0 0 36 36"><rect x="0" y="0" width="1" height="1" fill="#808080"/><rect x="35" y="35" width="1" height="1" fill="#808080"/><use href="#cl"/><path d="M6.4 16.0 L11.6 15.2 L8.3 22.7 L11.0 23.5 L4.2 33.9 L6.6 25.8 L2.5 25.3 Z" fill="url(#gr)" stroke="#d42c2c" stroke-width="0.6" stroke-linejoin="round"/><path d="M10.6 17.2 Q17.4 24.2 9.3 33.5" fill="none" stroke="#3c3c3c" stroke-width="0.9"/><use href="#dr" x="19.6" y="21.6"/><use href="#dr" x="26.3" y="30.6"/></svg>
<div class="d" style="left:489.83px;top:638px;transform:scaleX(0.8700)">GÖKGÜRÜLTÜLÜ</div>
<div class="d" style="left:485.48px;top:652px;transform:scaleX(0.8712)">SAĞANAK YAĞIŞLI</div>
<svg class="one lo" style="left:514.57px;top:679px" viewBox="0 -11 8 11"><use href="#d1"/></svg>
<div class="lo" style="left:522.00px;top:675px">3</div>
<div class="hi" style="left:546.67px;top:675px">2</div>
<svg class="one hi" style="left:554.10px;top:679px" viewBox="0 -11 8 11"><use href="#d1"/></svg>
<svg class="ic" style="left:680px;top:594px" viewBox="0 0 36 36"><rect x="0" y="0" width="1" height="1" fill="#808080"/><rect x="35" y="35" width="1" height="1" fill="#808080"/><use href="#cl"/><path d="M6.4 16.0 L11.6 15.2 L8.3 22.7 L11.0 23.5 L4.2 33.9 L6.6 25.8 L2.5 25.3 Z" fill="url(#gr)" stroke="#d42c2c" stroke-width="0.6" stroke-linejoin="round"/><path d="M10.6 17.2 Q17.4 24.2 9.3 33.5" fill="none" stroke="#3c3c3c" stroke-width="0.9"/><use href="#dr" x="19.6" y="21.6"/><use href="#dr" x="26.3" y="30.6"/></svg>
<div class="d" style="left:649.58px;top:638px;transform:scaleX(0.8700)">GÖKGÜRÜLTÜLÜ</div>
<div class="d" style="left:645.23px;top:652px;transform:scaleX(0.8712)">SAĞANAK YAĞIŞLI</div>
<svg class="one lo" style="left:674.32px;top:679px" viewBox="0 -11 8 11"><use href="#d1"/></svg>
<div class="lo" style="left:681.75px;top:675px">2</div>
<div class="hi" style="left:706.42px;top:675px">2</div>
<svg class="one hi" style="left:713.85px;top:679px" viewBox="0 -11 8 11"><use href="#d1"/></svg>
<svg class="ic" style="left:840px;top:594px" viewBox="0 0 36 36"><rect x="0" y="0" width="1" height="1" fill="#808080"/><rect x="35" y="35" width="1" height="1" fill="#808080"/><ellipse cx="12.2" cy="17.6" rx="4.6" ry="1.6" transform="rotate(-28 12.2 17.6)" fill="#dcdcdc" opacity="0.6"/><use href="#cc"/></svg>
<div class="d" style="left:816.74px;top:645px;transform:scaleX(0.8674)">ÇOK BULUTLU</div>
<svg class="one lo" style="left:834.07px;top:679px" viewBox="0 -11 8 11"><use href="#d1"/></svg>
<div class="lo" style="left:841.50px;top:675px">0</div>
<div class="hi" style="left:866.17px;top:675px">2</div>
<svg class="one hi" style="left:873.60px;top:679px" viewBox="0 -11 8 11"><use href="#d1"/></svg>
<div class="a lb" style="left:1px;top:697px;width:140px;height:107px"></div>
<div class="a cb" style="left:142px;top:697px;width:159px;height:46px"></div>
<div class="a cb" style="left:142px;top:781px;width:159px;height:23px"></div>
<div class="a cb" style="left:302px;top:697px;width:158px;height:46px"></div>
<div class="a cb" style="left:302px;top:781px;width:158px;height:23px"></div>
<div class="a cb" style="left:461px;top:697px;width:159px;height:46px"></div>
<div class="a cb" style="left:461px;top:781px;width:159px;height:23px"></div>
<div class="a cb" style="left:621px;top:697px;width:159px;height:46px"></div>
<div class="a cb" style="left:621px;top:781px;width:159px;height:23px"></div>
<div class="a cb" style="left:781px;top:697px;width:153px;height:46px"></div>
<div class="a cb" style="left:781px;top:781px;width:153px;height:23px"></div>
<div class="l" style="left:4.98px;top:740px;transform:scaleX(0.8182)">DOSEMEALTI</div>
<svg class="ic" style="left:201px;top:702px" viewBox="0 0 36 36"><rect x="0" y="0" width="1" height="1" fill="#808080"/><rect x="35" y="35" width="1" height="1" fill="#808080"/><use href="#cl"/><use href="#dr" x="14.9" y="15.6"/><use href="#dr" x="26.5" y="12.9"/><use href="#dr" x="6.2" y="30.2"/><use href="#dr" x="17.4" y="27.3"/></svg>
<div class="d" style="left:166.18px;top:753px;transform:scaleX(0.8712)">SAĞANAK YAĞIŞLI</div>
<svg class="one lo" style="left:195.07px;top:786px" viewBox="0 -11 8 11"><use href="#d1"/></svg>
<div class="lo" style="left:202.50px;top:782px">4</div>
<div class="hi" style="left:227.17px;top:782px">20</div>
<svg class="ic" style="left:360px;top:702px" viewBox="0 0 36 36"><rect x="0" y="0" width="1" height="1" fill="#808080"/><rect x="35" y="35" width="1" height="1" fill="#808080"/><use href="#cl"/><path d="M6.4 16.0 L11.6 15.2 L8.3 22.7 L11.0 23.5 L4.2 33.9 L6.6 25.8 L2.5 25.3 Z" fill="url(#gr)" stroke="#d42c2c" stroke-width="0.6" stroke-linejoin="round"/><path d="M10.6 17.2 Q17.4 24.2 9.3 33.5" fill="none" stroke="#3c3c3c" stroke-width="0.9"/><use href="#dr" x="19.6" y="21.6"/><use href="#dr" x="26.3" y="30.6"/></svg>
<div class="d" style="left:330.08px;top:746px;transform:scaleX(0.8700)">GÖKGÜRÜLTÜLÜ</div>
<div class="d" style="left:325.73px;top:759px;transform:scaleX(0.8712)">SAĞANAK YAĞIŞLI</div>
<svg class="one lo" style="left:354.82px;top:786px" viewBox="0 -11 8 11"><use href="#d1"/></svg>
<div class="lo" style="left:362.25px;top:782px">2</div>
<svg class="one hi" style="left:386.92px;top:786px" viewBox="0 -11 8 11"><use href="#d1"/></svg>
<div class="hi" style="left:394.35px;top:782px">9</div>
<svg class="ic" style="left:520px;top:702px" viewBox="0 0 36 36"><rect x="0" y="0" width="1" height="1" fill="#808080"/><rect x="35" y="35" width="1" height="1" fill="#808080"/><use href="#cl"/><path d="M6.4 16.0 L11.6 15.2 L8.3 22.7 L11.0 23.5 L4.2 33.9 L6.6 25.8 L2.5 25.3 Z" fill="url(#gr)" stroke="#d42c2c" stroke-width="0.6" stroke-linejoin="round"/><path d="M10.6 17.2 Q17.4 24.2 9.3 33.5" fill="none" stroke="#3c3c3c" stroke-width="0.9"/><use href="#dr" x="19.6" y="21.6"/><use href="#dr" x="26.3" y="30.6"/></svg>
<div class="d" style="left:489.83px;top:746px;transform:scaleX(0.8700)">GÖKGÜRÜLTÜLÜ</div>
<div class="d" style="left:485.48px;top:759px;transform:scaleX(0.8712)">SAĞANAK YAĞIŞLI</div>
<svg class="one lo" style="left:514.57px;top:786px" viewBox="0 -11 8 11"><use href="#d1"/></svg>
<div class="lo" style="left:522.00px;top:782px">4</div>
<svg class="one hi" style="left:546.67px;top:786px" viewBox="0 -11 8 11"><use href="#d1"/></svg>
<div class="hi" style="left:554.10px;top:782px">8</div>
<svg class="ic" style="left:680px;top:702px" viewBox="0 0 36 36"><rect x="0" y="0" width="1" height="1" fill="#808080"/><rect x="35" y="35" width="1" height="1" fill="#808080"/><use href="#cl"/><path d="M6.4 16.0 L11.6 15.2 L8.3 22.7 L11.0 23.5 L4.2 33.9 L6.6 25.8 L2.5 25.3 Z" fill="url(#gr)" stroke="#d42c2c" stroke-width="0.6" stroke-linejoin="round"/><path d="M10.6 17.2 Q17.4 24.2 9.3 33.5" fill="none" stroke="#3c3c3c" stroke-width="0.9"/><use href="#dr" x="19.6" y="21.6"/><use href="#dr" x="26.3" y="30.6"/></svg>
<div class="d" style="left:649.58px;top:746px;transform:scaleX(0.8700)">GÖKGÜRÜLTÜLÜ</div>
<div class="d" style="left:645.23px;top:759px;transform:scaleX(0.8712)">SAĞANAK YAĞIŞLI</div>
<svg class="one lo" style="left:674.32px;top:786px" viewBox="0 -11 8 11"><use href="#d1"/></svg>
<div class="lo" style="left:681.75px;top:782px">3</div>
<svg class="one hi" style="left:706.42px;top:786px" viewBox="0 -11 8 11"><use href="#d1"/></svg>
<div class="hi" style="left:713.85px;top:782px">6</div>
<svg class="ic" style="left:840px;top:702px" viewBox="0 0 36 36"><rect x="0" y="0" width="1" height="1" fill="#808080"/><rect x="35" y="35" width="1" height="1" fill="#808080"/><use href="#cl"/><path d="M6.4 16.0 L11.6 15.2 L8.3 22.7 L11.0 23.5 L4.2 33.9 L6.6 25.8 L2.5 25.3 Z" fill="url(#gr)" stroke="#d42c2c" stroke-width="0.6" stroke-linejoin="round"/><path d="M10.6 17.2 Q17.4 24.2 9.3 33.5" fill="none" stroke="#3c3c3c" stroke-width="0.9"/><use href="#dr" x="19.6" y="21.6"/><use href="#dr" x="26.3" y="30.6"/></svg>
<div class="d" style="left:809.33px;top:746px;transform:scaleX(0.8700)">GÖKGÜRÜLTÜLÜ</div>
<div class="d" style="left:804.98px;top:759px;transform:scaleX(0.8712)">SAĞANAK YAĞIŞLI</div>
<svg class="one lo" style="left:834.07px;top:786px" viewBox="0 -11 8 11"><use href="#d1"/></svg>
<div class="lo" style="left:841.50px;top:782px">2</div>
<svg class="one hi" style="left:866.17px;top:786px" viewBox="0 -11 8 11"><use href="#d1"/></svg>
<div class="hi" style="left:873.60px;top:782px">8</div>
<div class="l" style="left:4.97px;top:848px;transform:scaleX(0.8290)">Elmalı</div>
<svg class="ic" style="left:201px;top:810px" viewBox="0 0 36 36"><rect x="0" y="0" width="1" height="1" fill="#808080"/><rect x="35" y="35" width="1" height="1" fill="#808080"/><ellipse cx="12.2" cy="17.6" rx="4.6" ry="1.6" transform="rotate(-28 12.2 17.6)" fill="#dcdcdc" opacity="0.6"/><use href="#cc"/></svg>
<div class="d" style="left:177.74px;top:861px;transform:scaleX(0.8674)">ÇOK BULUTLU</div>
<div class="lo" style="left:198.78px;top:890px">4</div>
<svg class="one hi" style="left:223.45px;top:894px" viewBox="0 -11 8 11"><use href="#d1"/></svg>
<div class="hi" style="left:230.88px;top:890px">7</div>
<svg class="ic" style="left:360px;top:810px" viewBox="0 0 36 36"><rect x="0" y="0" width="1" height="1" fill="#808080"/><rect x="35" y="35" width="1" height="1" fill="#808080"/><ellipse cx="12.2" cy="17.6" rx="4.6" ry="1.6" transform="rotate(-28 12.2 17.6)" fill="#dcdcdc" opacity="0.6"/><use href="#cc"/></svg>
<div class="d" style="left:337.49px;top:861px;transform:scaleX(0.8674)">ÇOK BULUTLU</div>
<div class="lo" style="left:358.53px;top:890px">3</div>
<svg class="one hi" style="left:383.20px;top:894px" viewBox="0 -11 8 11"><use href="#d1"/></svg>
<div class="hi" style="left:390.63px;top:890px">8</div>
<svg class="ic" style="left:520px;top:810px" viewBox="0 0 36 36"><rect x="0" y="0" width="1" height="1" fill="#808080"/><rect x="35" y="35" width="1" height="1" fill="#808080"/><use href="#cl"/><path d="M6.4 16.0 L11.6 15.2 L8.3 22.7 L11.0 23.5 L4.2 33.9 L6.6 25.8 L2.5 25.3 Z" fill="url(#gr)" stroke="#d42c2c" stroke-width="0.6" stroke-linejoin="round"/><path d="M10.6 17.2 Q17.4 24.2 9.3 33.5" fill="none" stroke="#3c3c3c" stroke-width="0.9"/><use href="#dr" x="19.6" y="21.6"/><use href="#dr" x="26.3" y="30.6"/></svg>
<div class="d" style="left:489.83px;top:854px;transform:scaleX(0.8700)">GÖKGÜRÜLTÜLÜ</div>
<div class="d" style="left:485.48px;top:867px;transform:scaleX(0.8712)">SAĞANAK YAĞIŞLI</div>
<div class="lo" style="left:518.28px;top:890px">6</div>
<svg class="one hi" style="left:542.95px;top:894px" viewBox="0 -11 8 11"><use href="#d1"/></svg>
<div class="hi" style="left:550.38px;top:890px">7</div>
<svg class="ic" style="left:680px;top:810px" viewBox="0 0 36 36"><rect x="0" y="0" width="1" height="1" fill="#808080"/><rect x="35" y="35" width="1" height="1" fill="#808080"/><use href="#cl"/><path d="M6.4 16.0 L11.6 15.2 L8.3 22.7 L11.0 23.5 L4.2 33.9 L6.6 25.8 L2.5 25.3 Z" fill="url(#gr)" stroke="#d42c2c" stroke-width="0.6" stroke-linejoin="round"/><path d="M10.6 17.2 Q17.4 24.2 9.3 33.5" fill="none" stroke="#3c3c3c" stroke-width="0.9"/><use href="#dr" x="19.6" y="21.6"/><use href="#dr" x="26.3" y="30.6"/></svg>
<div class="d" style="left:649.58px;top:854px;transform:scaleX(0.8700)">GÖKGÜRÜLTÜLÜ</div>
<div class="d" style="left:645.23px;top:867px;transform:scaleX(0.8712)">SAĞANAK YAĞIŞLI</div>
<div class="lo" style="left:678.03px;top:890px">6</div>
<svg class="one hi" style="left:702.70px;top:894px" viewBox="0 -11 8 11"><use href="#d1"/></svg>
<div class="hi" style="left:710.13px;top:890px">4</div>
<svg class="ic" style="left:840px;top:810px" viewBox="0 0 36 36"><rect x="0" y="0" width="1" height="1" fill="#808080"/><rect x="35" y="35" width="1" height="1" fill="#808080"/><ellipse cx="12.2" cy="17.6" rx="4.6" ry="1.6" transform="rotate(-28 12.2 17.6)" fill="#dcdcdc" opacity="0.6"/><use href="#cc"/></svg>
<div class="d" style="left:816.74px;top:861px;transform:scaleX(0.8674)">ÇOK BULUTLU</div>
<div class="lo" style="left:837.78px;top:890px">4</div>
<svg class="one hi" style="left:862.45px;top:894px" viewBox="0 -11 8 11"><use href="#d1"/></svg>
<div class="hi" style="left:869.88px;top:890px">6</div>
<div class="a lb" style="left:1px;top:913px;width:140px;height:107px"></div>
<div class="a cb" style="left:142px;top:913px;width:159px;height:46px"></div>
<div class="a cb" style="left:142px;top:997px;width:159px;height:23px"></div>
<div class="a cb" style="left:302px;top:913px;width:158px;height:46px"></div>
<div class="a cb" style="left:302px;top:997px;width:158px;height:23px"></div>
<div class="a cb" style="left:461px;top:913px;width:159px;height:46px"></div>
<div class="a cb" style="left:461px;top:997px;width:159px;height:23px"></div>
<div class="a cb" style="left:621px;top:913px;width:159px;height:46px"></div>
<div class="a cb" style="left:621px;top:997px;width:159px;height:23px"></div>
<div class="a cb" style="left:781px;top:913px;width:153px;height:46px"></div>
<div class="a cb" style="left:781px;top:997px;width:153px;height:23px"></div>
<div class="l" style="left:4.96px;top:956px;transform:scaleX(0.8373)">Finike</div>
<svg class="ic" style="left:201px;top:918px" viewBox="0 0 36 36"><rect x="0" y="0" width="1" height="1" fill="#808080"/><rect x="35" y="35" width="1" height="1" fill="#808080"/><ellipse cx="12.2" cy="17.6" rx="4.6" ry="1.6" transform="rotate(-28 12.2 17.6)" fill="#dcdcdc" opacity="0.6"/><use href="#cc"/></svg>
<div class="d" style="left:177.74px;top:969px;transform:scaleX(0.8674)">ÇOK BULUTLU</div>
<svg class="one lo" style="left:195.07px;top:1002px" viewBox="0 -11 8 11"><use href="#d1"/></svg>
<div class="lo" style="left:202.50px;top:998px">2</div>
<div class="hi" style="left:227.17px;top:998px">22</div>
<svg class="ic" style="left:360px;top:918px" viewBox="0 0 36 36"><rect x="0" y="0" width="1" height="1" fill="#808080"/><rect x="35" y="35" width="1" height="1" fill="#808080"/><use href="#cl"/><path d="M6.4 16.0 L11.6 15.2 L8.3 22.7 L11.0 23.5 L4.2 33.9 L6.6 25.8 L2.5 25.3 Z" fill="url(#gr)" stroke="#d42c2c" stroke-width="0.6" stroke-linejoin="round"/><path d="M10.6 17.2 Q17.4 24.2 9.3 33.5" fill="none" stroke="#3c3c3c" stroke-width="0.9"/><use href="#dr" x="19.6" y="21.6"/><use href="#dr" x="26.3" y="30.6"/></svg>
<div class="d" style="left:330.08px;top:962px;transform:scaleX(0.8700)">GÖKGÜRÜLTÜLÜ</div>
<div class="d" style="left:325.73px;top:975px;transform:scaleX(0.8712)">SAĞANAK YAĞIŞLI</div>
<svg class="one lo" style="left:354.82px;top:1002px" viewBox="0 -11 8 11"><use href="#d1"/></svg>
<div class="lo" style="left:362.25px;top:998px">3</div>
<div class="hi" style="left:386.92px;top:998px">23</div>
<svg class="ic" style="left:520px;top:918px" viewBox="0 0 36 36"><rect x="0" y="0" width="1" height="1" fill="#808080"/><rect x="35" y="35" width="1" height="1" fill="#808080"/><use href="#cl"/><path d="M6.4 16.0 L11.6 15.2 L8.3 22.7 L11.0 23.5 L4.2 33.9 L6.6 25.8 L2.5 25.3 Z" fill="url(#gr)" stroke="#d42c2c" stroke-width="0.6" stroke-linejoin="round"/><path d="M10.6 17.2 Q17.4 24.2 9.3 33.5" fill="none" stroke="#3c3c3c" stroke-width="0.9"/><use href="#dr" x="19.6" y="21.6"/><use href="#dr" x="26.3" y="30.6"/></svg>
<div class="d" style="left:489.83px;top:962px;transform:scaleX(0.8700)">GÖKGÜRÜLTÜLÜ</div>
<div class="d" style="left:485.48px;top:975px;transform:scaleX(0.8712)">SAĞANAK YAĞIŞLI</div>
<svg class="one lo" style="left:514.57px;top:1002px" viewBox="0 -11 8 11"><use href="#d1"/></svg>
<div class="lo" style="left:522.00px;top:998px">4</div>
<div class="hi" style="left:546.67px;top:998px">20</div>
<svg class="ic" style="left:680px;top:918px" viewBox="0 0 36 36"><rect x="0" y="0" width="1" height="1" fill="#808080"/><rect x="35" y="35" width="1" height="1" fill="#808080"/><use href="#cl"/><path d="M6.4 16.0 L11.6 15.2 L8.3 22.7 L11.0 23.5 L4.2 33.9 L6.6 25.8 L2.5 25.3 Z" fill="url(#gr)" stroke="#d42c2c" stroke-width="0.6" stroke-linejoin="round"/><path d="M10.6 17.2 Q17.4 24.2 9.3 33.5" fill="none" stroke="#3c3c3c" stroke-width="0.9"/><use href="#dr" x="19.6" y="21.6"/><use href="#dr" x="26.3" y="30.6"/></svg>
<div class="d" style="left:649.58px;top:962px;transform:scaleX(0.8700)">GÖKGÜRÜLTÜLÜ</div>
<div class="d" style="left:645.23px;top:975px;transform:scaleX(0.8712)">SAĞANAK YAĞIŞLI</div>
<svg class="one lo" style="left:674.32px;top:1002px" viewBox="0 -11 8 11"><use href="#d1"/></svg>
<div class="lo" style="left:681.75px;top:998px">4</div>
<svg class="one hi" style="left:706.42px;top:1002px" viewBox="0 -11 8 11"><use href="#d1"/></svg>
<div class="hi" style="left:713.85px;top:998px">8</div>
<svg class="ic" style="left:840px;top:918px" viewBox="0 0 36 36"><rect x="0" y="0" width="1" height="1" fill="#808080"/><rect x="35" y="35" width="1" height="1" fill="#808080"/><ellipse cx="12.2" cy="17.6" rx="4.6" ry="1.6" transform="rotate(-28 12.2 17.6)" fill="#dcdcdc" opacity="0.6"/><use href="#cc"/></svg>
<div class="d" style="left:816.74px;top:969px;transform:scaleX(0.8674)">ÇOK BULUTLU</div>
<svg class="one lo" style="left:834.07px;top:1002px" viewBox="0 -11 8 11"><use href="#d1"/></svg>
<svg class="one lo" style="left:841.50px;top:1002px" viewBox="0 -11 8 11"><use href="#d1"/></svg>
<svg class="one hi" style="left:866.17px;top:1002px" viewBox="0 -11 8 11"><use href="#d1"/></svg>
<div class="hi" style="left:873.60px;top:998px">9</div>
<div class="l" style="left:5.34px;top:1064px;transform:scaleX(0.8009)">Gazipaşa</div>
<svg class="ic" style="left:201px;top:1026px" viewBox="0 0 36 36"><rect x="0" y="0" width="1" height="1" fill="#808080"/><rect x="35" y="35" width="1" height="1" fill="#808080"/><ellipse cx="12.2" cy="17.6" rx="4.6" ry="1.6" transform="rotate(-28 12.2 17.6)" fill="#dcdcdc" opacity="0.6"/><use href="#cc"/></svg>
<div class="d" style="left:177.74px;top:1077px;transform:scaleX(0.8674)">ÇOK BULUTLU</div>
<svg class="one lo" style="left:195.07px;top:1110px" viewBox="0 -11 8 11"><use href="#d1"/></svg>
<div class="lo" style="left:202.50px;top:1106px">2</div>
<div class="hi" style="left:227.17px;top:1106px">22</div>
<svg class="ic" style="left:360px;top:1026px" viewBox="0 0 36 36"><rect x="0" y="0" width="1" height="1" fill="#808080"/><rect x="35" y="35" width="1" height="1" fill="#808080"/><ellipse cx="12.2" cy="17.6" rx="4.6" ry="1.6" transform="rotate(-28 12.2 17.6)" fill="#dcdcdc" opacity="0.6"/><use href="#cc"/></svg>
<div class="d" style="left:337.49px;top:1077px;transform:scaleX(0.8674)">ÇOK BULUTLU</div>
<svg class="one lo" style="left:354.82px;top:1110px" viewBox="0 -11 8 11"><use href="#d1"/></svg>
<div class="lo" style="left:362.25px;top:1106px">2</div>
<div class="hi" style="left:386.92px;top:1106px">23</div>
<svg class="ic" style="left:520px;top:1026px" viewBox="0 0 36 36"><rect x="0" y="0" width="1" height="1" fill="#808080"/><rect x="35" y="35" width="1" height="1" fill="#808080"/><ellipse cx="12.2" cy="17.6" rx="4.6" ry="1.6" transform="rotate(-28 12.2 17.6)" fill="#dcdcdc" opacity="0.6"/><use href="#cc"/></svg>
<div class="d" style="left:497.24px;top:1077px;transform:scaleX(0.8674)">ÇOK BULUTLU</div>
<svg class="one lo" style="left:514.57px;top:1110px" viewBox="0 -11 8 11"><use href="#d1"/></svg>
<div class="lo" style="left:522.00px;top:1106px">2</div>
<div class="hi" style="left:546.67px;top:1106px">25</div>
<svg class="ic" style="left:680px;top:1026px" viewBox="0 0 36 36"><rect x="0" y="0" width="1" height="1" fill="#808080"/><rect x="35" y="35" width="1" height="1" fill="#808080"/><use href="#cl"/><path d="M6.4 16.0 L11.6 15.2 L8.3 22.7 L11.0 23.5 L4.2 33.9 L6.6 25.8 L2.5 25.3 Z" fill="url(#gr)" stroke="#d42c2c" stroke-width="0.6" stroke-linejoin="round"/><path d="M10.6 17.2 Q17.4 24.2 9.3 33.5" fill="none" stroke="#3c3c3c" stroke-width="0.9"/><use href="#dr" x="19.6" y="21.6"/><use href="#dr" x="26.3" y="30.6"/></svg>
<div class="d" style="left:649.58px;top:1070px;transform:scaleX(0.8700)">GÖKGÜRÜLTÜLÜ</div>
<div class="d" style="left:645.23px;top:1083px;transform:scaleX(0.8712)">SAĞANAK YAĞIŞLI</div>
<svg class="one lo" style="left:674.32px;top:1110px" viewBox="0 -11 8 11"><use href="#d1"/></svg>
<svg class="one lo" style="left:681.75px;top:1110px" viewBox="0 -11 8 11"><use href="#d1"/></svg>
<div class="hi" style="left:706.42px;top:1106px">25</div>
<svg class="ic" style="left:840px;top:1026px" viewBox="0 0 36 36"><rect x="0" y="0" width="1" height="1" fill="#808080"/><rect x="35" y="35" width="1" height="1" fill="#808080"/><use href="#cl"/><path d="M6.4 16.0 L11.6 15.2 L8.3 22.7 L11.0 23.5 L4.2 33.9 L6.6 25.8 L2.5 25.3 Z" fill="url(#gr)" stroke="#d42c2c" stroke-width="0.6" stroke-linejoin="round"/><path d="M10.6 17.2 Q17.4 24.2 9.3 33.5" fill="none" stroke="#3c3c3c" stroke-width="0.9"/><use href="#dr" x="19.6" y="21.6"/><use href="#dr" x="26.3" y="30.6"/></svg>
<div class="d" style="left:809.33px;top:1070px;transform:scaleX(0.8700)">GÖKGÜRÜLTÜLÜ</div>
<div class="d" style="left:804.98px;top:1083px;transform:scaleX(0.8712)">SAĞANAK YAĞIŞLI</div>
<svg class="one lo" style="left:834.07px;top:1110px" viewBox="0 -11 8 11"><use href="#d1"/></svg>
<div class="lo" style="left:841.50px;top:1106px">0</div>
<svg class="one hi" style="left:866.17px;top:1110px" viewBox="0 -11 8 11"><use href="#d1"/></svg>
<div class="hi" style="left:873.60px;top:1106px">9</div>
<div class="a lb" style="left:1px;top:1129px;width:140px;height:107px"></div>
<div class="a cb" style="left:142px;top:1129px;width:159px;height:46px"></div>
<div class="a cb" style="left:142px;top:1213px;width:159px;height:23px"></div>
<div class="a cb" style="left:302px;top:1129px;width:158px;height:46px"></div>
<div class="a cb" style="left:302px;top:1213px;width:158px;height:23px"></div>
<div class="a cb" style="left:461px;top:1129px;width:159px;height:46px"></div>
<div class="a cb" style="left:461px;top:1213px;width:159px;height:23px"></div>
<div class="a cb" style="left:621px;top:1129px;width:159px;height:46px"></div>
<div class="a cb" style="left:621px;top:1213px;width:159px;height:23px"></div>
<div class="a cb" style="left:781px;top:1129px;width:153px;height:46px"></div>
<div class="a cb" style="left:781px;top:1213px;width:153px;height:23px"></div>
<div class="l" style="left:5.31px;top:1172px;transform:scaleX(0.8611)">GUNDOGMUS</div>
<svg class="ic" style="left:201px;top:1134px" viewBox="0 0 36 36"><rect x="0" y="0" width="1" height="1" fill="#808080"/><rect x="35" y="35" width="1" height="1" fill="#808080"/><ellipse cx="12.2" cy="17.6" rx="4.6" ry="1.6" transform="rotate(-28 12.2 17.6)" fill="#dcdcdc" opacity="0.6"/><use href="#cc"/></svg>
<div class="d" style="left:177.74px;top:1184px;transform:scaleX(0.8674)">ÇOK BULUTLU</div>
<div class="lo" style="left:198.78px;top:1214px">9</div>
<svg class="one hi" style="left:223.45px;top:1218px" viewBox="0 -11 8 11"><use href="#d1"/></svg>
<div class="hi" style="left:230.88px;top:1214px">7</div>
<svg class="ic" style="left:360px;top:1134px" viewBox="0 0 36 36"><rect x="0" y="0" width="1" height="1" fill="#808080"/><rect x="35" y="35" width="1" height="1" fill="#808080"/><ellipse cx="12.2" cy="17.6" rx="4.6" ry="1.6" transform="rotate(-28 12.2 17.6)" fill="#dcdcdc" opacity="0.6"/><use href="#cc"/></svg>
<div class="d" style="left:337.49px;top:1184px;transform:scaleX(0.8674)">ÇOK BULUTLU</div>
<div class="lo" style="left:358.53px;top:1214px">8</div>
<svg class="one hi" style="left:383.20px;top:1218px" viewBox="0 -11 8 11"><use href="#d1"/></svg>
<div class="hi" style="left:390.63px;top:1214px">8</div>
<svg class="ic" style="left:520px;top:1134px" viewBox="0 0 36 36"><rect x="0" y="0" width="1" height="1" fill="#808080"/><rect x="35" y="35" width="1" height="1" fill="#808080"/><ellipse cx="12.2" cy="17.6" rx="4.6" ry="1.6" transform="rotate(-28 12.2 17.6)" fill="#dcdcdc" opacity="0.6"/><use href="#cc"/></svg>
<div class="d" style="left:497.24px;top:1184px;transform:scaleX(0.8674)">ÇOK BULUTLU</div>
<svg class="one lo" style="left:514.57px;top:1218px" viewBox="0 -11 8 11"><use href="#d1"/></svg>
<div class="lo" style="left:522.00px;top:1214px">0</div>
<svg class="one hi" style="left:546.67px;top:1218px" viewBox="0 -11 8 11"><use href="#d1"/></svg>
<div class="hi" style="left:554.10px;top:1214px">9</div>
<svg class="ic" style="left:680px;top:1134px" viewBox="0 0 36 36"><rect x="0" y="0" width="1" height="1" fill="#808080"/><rect x="35" y="35" width="1" height="1" fill="#808080"/><use href="#cl"/><path d="M6.4 16.0 L11.6 15.2 L8.3 22.7 L11.0 23.5 L4.2 33.9 L6.6 25.8 L2.5 25.3 Z" fill="url(#gr)" stroke="#d42c2c" stroke-width="0.6" stroke-linejoin="round"/><path d="M10.6 17.2 Q17.4 24.2 9.3 33.5" fill="none" stroke="#3c3c3c" stroke-width="0.9"/><use href="#dr" x="19.6" y="21.6"/><use href="#dr" x="26.3" y="30.6"/></svg>
<div class="d" style="left:649.58px;top:1178px;transform:scaleX(0.8700)">GÖKGÜRÜLTÜLÜ</div>
<div class="d" style="left:645.23px;top:1191px;transform:scaleX(0.8712)">SAĞANAK YAĞIŞLI</div>
<svg class="one lo" style="left:674.32px;top:1218px" viewBox="0 -11 8 11"><use href="#d1"/></svg>
<div class="lo" style="left:681.75px;top:1214px">0</div>
<svg class="one hi" style="left:706.42px;top:1218px" viewBox="0 -11 8 11"><use href="#d1"/></svg>
<div class="hi" style="left:713.85px;top:1214px">4</div>
<svg class="ic" style="left:840px;top:1134px" viewBox="0 0 36 36"><rect x="0" y="0" width="1" height="1" fill="#808080"/><rect x="35" y="35" width="1" height="1" fill="#808080"/><use href="#cl"/><path d="M6.4 16.0 L11.6 15.2 L8.3 22.7 L11.0 23.5 L4.2 33.9 L6.6 25.8 L2.5 25.3 Z" fill="url(#gr)" stroke="#d42c2c" stroke-width="0.6" stroke-linejoin="round"/><path d="M10.6 17.2 Q17.4 24.2 9.3 33.5" fill="none" stroke="#3c3c3c" stroke-width="0.9"/><use href="#dr" x="19.6" y="21.6"/><use href="#dr" x="26.3" y="30.6"/></svg>
<div class="d" style="left:809.33px;top:1178px;transform:scaleX(0.8700)">GÖKGÜRÜLTÜLÜ</div>
<div class="d" style="left:804.98px;top:1191px;transform:scaleX(0.8712)">SAĞANAK YAĞIŞLI</div>
<div class="lo" style="left:837.78px;top:1214px">8</div>
<svg class="one hi" style="left:862.45px;top:1218px" viewBox="0 -11 8 11"><use href="#d1"/></svg>
<div class="hi" style="left:869.88px;top:1214px">4</div>
<div class="l" style="left:4.91px;top:1280px;transform:scaleX(0.8874)">İbradı</div>
<svg class="ic" style="left:201px;top:1241px" viewBox="0 0 36 36"><rect x="0" y="0" width="1" height="1" fill="#808080"/><rect x="35" y="35" width="1" height="1" fill="#808080"/><ellipse cx="12.2" cy="17.6" rx="4.6" ry="1.6" transform="rotate(-28 12.2 17.6)" fill="#dcdcdc" opacity="0.6"/><use href="#cc"/></svg>
<div class="d" style="left:177.74px;top:1292px;transform:scaleX(0.8674)">ÇOK BULUTLU</div>
<div class="lo" style="left:198.78px;top:1322px">6</div>
<svg class="one hi" style="left:223.45px;top:1326px" viewBox="0 -11 8 11"><use href="#d1"/></svg>
<div class="hi" style="left:230.88px;top:1322px">3</div>
<svg class="ic" style="left:360px;top:1241px" viewBox="0 0 36 36"><rect x="0" y="0" width="1" height="1" fill="#808080"/><rect x="35" y="35" width="1" height="1" fill="#808080"/><ellipse cx="12.2" cy="17.6" rx="4.6" ry="1.6" transform="rotate(-28 12.2 17.6)" fill="#dcdcdc" opacity="0.6"/><use href="#cc"/></svg>
<div class="d" style="left:337.49px;top:1292px;transform:scaleX(0.8674)">ÇOK BULUTLU</div>
<div class="lo" style="left:358.53px;top:1322px">6</div>
<svg class="one hi" style="left:383.20px;top:1326px" viewBox="0 -11 8 11"><use href="#d1"/></svg>
<div class="hi" style="left:390.63px;top:1322px">4</div>
<svg class="ic" style="left:520px;top:1241px" viewBox="0 0 36 36"><rect x="0" y="0" width="1" height="1" fill="#808080"/><rect x="35" y="35" width="1" height="1" fill="#808080"/><ellipse cx="12.2" cy="17.6" rx="4.6" ry="1.6" transform="rotate(-28 12.2 17.6)" fill="#dcdcdc" opacity="0.6"/><use href="#cc"/></svg>
<div class="d" style="left:497.24px;top:1292px;transform:scaleX(0.8674)">ÇOK BULUTLU</div>
<div class="lo" style="left:518.28px;top:1322px">8</div>
<svg class="one hi" style="left:542.95px;top:1326px" viewBox="0 -11 8 11"><use href="#d1"/></svg>
<div class="hi" style="left:550.38px;top:1322px">5</div>
<svg class="ic" style="left:680px;top:1241px" viewBox="0 0 36 36"><rect x="0" y="0" width="1" height="1" fill="#808080"/><rect x="35" y="35" width="1" height="1" fill="#808080"/><use href="#cl"/><path d="M6.4 16.0 L11.6 15.2 L8.3 22.7 L11.0 23.5 L4.2 33.9 L6.6 25.8 L2.5 25.3 Z" fill="url(#gr)" stroke="#d42c2c" stroke-width="0.6" stroke-linejoin="round"/><path d="M10.6 17.2 Q17.4 24.2 9.3 33.5" fill="none" stroke="#3c3c3c" stroke-width="0.9"/><use href="#dr" x="19.6" y="21.6"/><use href="#dr" x="26.3" y="30.6"/></svg>
<div class="d" style="left:649.58px;top:1286px;transform:scaleX(0.8700)">GÖKGÜRÜLTÜLÜ</div>
<div class="d" style="left:645.23px;top:1299px;transform:scaleX(0.8712)">SAĞANAK YAĞIŞLI</div>
<div class="lo" style="left:681.75px;top:1322px">9</div>
<div class="hi" style="left:706.42px;top:1322px">9</div>
<svg class="ic" style="left:840px;top:1241px" viewBox="0 0 36 36"><rect x="0" y="0" width="1" height="1" fill="#808080"/><rect x="35" y="35" width="1" height="1" fill="#808080"/><use href="#cl"/><path d="M6.4 16.0 L11.6 15.2 L8.3 22.7 L11.0 23.5 L4.2 33.9 L6.6 25.8 L2.5 25.3 Z" fill="url(#gr)" stroke="#d42c2c" stroke-width="0.6" stroke-linejoin="round"/><path d="M10.6 17.2 Q17.4 24.2 9.3 33.5" fill="none" stroke="#3c3c3c" stroke-width="0.9"/><use href="#dr" x="19.6" y="21.6"/><use href="#dr" x="26.3" y="30.6"/></svg>
<div class="d" style="left:809.33px;top:1286px;transform:scaleX(0.8700)">GÖKGÜRÜLTÜLÜ</div>
<div class="d" style="left:804.98px;top:1299px;transform:scaleX(0.8712)">SAĞANAK YAĞIŞLI</div>
<div class="lo" style="left:837.78px;top:1322px">7</div>
<svg class="one hi" style="left:862.45px;top:1326px" viewBox="0 -11 8 11"><use href="#d1"/></svg>
<svg class="one hi" style="left:869.88px;top:1326px" viewBox="0 -11 8 11"><use href="#d1"/></svg>
<div class="a lb" style="left:1px;top:1345px;width:140px;height:107px"></div>
<div class="a cb" style="left:142px;top:1345px;width:159px;height:46px"></div>
<div class="a cb" style="left:142px;top:1429px;width:159px;height:23px"></div>
<div class="a cb" style="left:302px;top:1345px;width:158px;height:46px"></div>
<div class="a cb" style="left:302px;top:1429px;width:158px;height:23px"></div>
<div class="a cb" style="left:461px;top:1345px;width:159px;height:46px"></div>
<div class="a cb" style="left:461px;top:1429px;width:159px;height:23px"></div>
<div class="a cb" style="left:621px;top:1345px;width:159px;height:46px"></div>
<div class="a cb" style="left:621px;top:1429px;width:159px;height:23px"></div>
<div class="a cb" style="left:781px;top:1345px;width:153px;height:46px"></div>
<div class="a cb" style="left:781px;top:1429px;width:153px;height:23px"></div>
<div class="l" style="left:4.97px;top:1388px;transform:scaleX(0.8257)">Kaş</div>
<svg class="ic" style="left:201px;top:1349px" viewBox="0 0 36 36"><rect x="0" y="0" width="1" height="1" fill="#808080"/><rect x="35" y="35" width="1" height="1" fill="#808080"/><ellipse cx="12.2" cy="17.6" rx="4.6" ry="1.6" transform="rotate(-28 12.2 17.6)" fill="#dcdcdc" opacity="0.6"/><use href="#cc"/></svg>
<div class="d" style="left:177.74px;top:1400px;transform:scaleX(0.8674)">ÇOK BULUTLU</div>
<svg class="one lo" style="left:195.07px;top:1434px" viewBox="0 -11 8 11"><use href="#d1"/></svg>
<div class="lo" style="left:202.50px;top:1430px">5</div>
<div class="hi" style="left:227.17px;top:1430px">22</div>
<svg class="ic" style="left:360px;top:1349px" viewBox="0 0 36 36"><rect x="0" y="0" width="1" height="1" fill="#808080"/><rect x="35" y="35" width="1" height="1" fill="#808080"/><use href="#cl"/><path d="M6.4 16.0 L11.6 15.2 L8.3 22.7 L11.0 23.5 L4.2 33.9 L6.6 25.8 L2.5 25.3 Z" fill="url(#gr)" stroke="#d42c2c" stroke-width="0.6" stroke-linejoin="round"/><path d="M10.6 17.2 Q17.4 24.2 9.3 33.5" fill="none" stroke="#3c3c3c" stroke-width="0.9"/><use href="#dr" x="19.6" y="21.6"/><use href="#dr" x="26.3" y="30.6"/></svg>
<div class="d" style="left:330.08px;top:1394px;transform:scaleX(0.8700)">GÖKGÜRÜLTÜLÜ</div>
<div class="d" style="left:325.73px;top:1407px;transform:scaleX(0.8712)">SAĞANAK YAĞIŞLI</div>
<svg class="one lo" style="left:354.82px;top:1434px" viewBox="0 -11 8 11"><use href="#d1"/></svg>
<div class="lo" style="left:362.25px;top:1430px">6</div>
<div class="hi" style="left:386.92px;top:1430px">22</div>
<svg class="ic" style="left:520px;top:1349px" viewBox="0 0 36 36"><rect x="0" y="0" width="1" height="1" fill="#808080"/><rect x="35" y="35" width="1" height="1" fill="#808080"/><use href="#cl"/><path d="M6.4 16.0 L11.6 15.2 L8.3 22.7 L11.0 23.5 L4.2 33.9 L6.6 25.8 L2.5 25.3 Z" fill="url(#gr)" stroke="#d42c2c" stroke-width="0.6" stroke-linejoin="round"/><path d="M10.6 17.2 Q17.4 24.2 9.3 33.5" fill="none" stroke="#3c3c3c" stroke-width="0.9"/><use href="#dr" x="19.6" y="21.6"/><use href="#dr" x="26.3" y="30.6"/></svg>
<div class="d" style="left:489.83px;top:1394px;transform:scaleX(0.8700)">GÖKGÜRÜLTÜLÜ</div>
<div class="d" style="left:485.48px;top:1407px;transform:scaleX(0.8712)">SAĞANAK YAĞIŞLI</div>
<svg class="one lo" style="left:514.57px;top:1434px" viewBox="0 -11 8 11"><use href="#d1"/></svg>
<div class="lo" style="left:522.00px;top:1430px">7</div>
<div class="hi" style="left:546.67px;top:1430px">2</div>
<svg class="one hi" style="left:554.10px;top:1434px" viewBox="0 -11 8 11"><use href="#d1"/></svg>
<svg class="ic" style="left:680px;top:1349px" viewBox="0 0 36 36"><rect x="0" y="0" width="1" height="1" fill="#808080"/><rect x="35" y="35" width="1" height="1" fill="#808080"/><use href="#cl"/><path d="M6.4 16.0 L11.6 15.2 L8.3 22.7 L11.0 23.5 L4.2 33.9 L6.6 25.8 L2.5 25.3 Z" fill="url(#gr)" stroke="#d42c2c" stroke-width="0.6" stroke-linejoin="round"/><path d="M10.6 17.2 Q17.4 24.2 9.3 33.5" fill="none" stroke="#3c3c3c" stroke-width="0.9"/><use href="#dr" x="19.6" y="21.6"/><use href="#dr" x="26.3" y="30.6"/></svg>
<div class="d" style="left:649.58px;top:1394px;transform:scaleX(0.8700)">GÖKGÜRÜLTÜLÜ</div>
<div class="d" style="left:645.23px;top:1407px;transform:scaleX(0.8712)">SAĞANAK YAĞIŞLI</div>
<svg class="one lo" style="left:674.32px;top:1434px" viewBox="0 -11 8 11"><use href="#d1"/></svg>
<div class="lo" style="left:681.75px;top:1430px">6</div>
<div class="hi" style="left:706.42px;top:1430px">20</div>
<svg class="ic" style="left:840px;top:1349px" viewBox="0 0 36 36"><rect x="0" y="0" width="1" height="1" fill="#808080"/><rect x="35" y="35" width="1" height="1" fill="#808080"/><ellipse cx="12.2" cy="17.6" rx="4.6" ry="1.6" transform="rotate(-28 12.2 17.6)" fill="#dcdcdc" opacity="0.6"/><use href="#cc"/></svg>
<div class="d" style="left:816.74px;top:1400px;transform:scaleX(0.8674)">ÇOK BULUTLU</div>
<svg class="one lo" style="left:834.07px;top:1434px" viewBox="0 -11 8 11"><use href="#d1"/></svg>
<div class="lo" style="left:841.50px;top:1430px">3</div>
<div class="hi" style="left:866.17px;top:1430px">2</div>
<svg class="one hi" style="left:873.60px;top:1434px" viewBox="0 -11 8 11"><use href="#d1"/></svg>
<div class="l" style="left:4.95px;top:1495px;transform:scaleX(0.8529)">Kemer</div>
<svg class="ic" style="left:201px;top:1457px" viewBox="0 0 36 36"><rect x="0" y="0" width="1" height="1" fill="#808080"/><rect x="35" y="35" width="1" height="1" fill="#808080"/><use href="#cl"/><use href="#dr" x="14.9" y="15.6"/><use href="#dr" x="26.5" y="12.9"/><use href="#dr" x="6.2" y="30.2"/><use href="#dr" x="17.4" y="27.3"/></svg>
<div class="d" style="left:166.18px;top:1508px;transform:scaleX(0.8712)">SAĞANAK YAĞIŞLI</div>
<svg class="one lo" style="left:195.07px;top:1541px" viewBox="0 -11 8 11"><use href="#d1"/></svg>
<div class="lo" style="left:202.50px;top:1537px">2</div>
<div class="hi" style="left:227.17px;top:1537px">20</div>
<svg class="ic" style="left:360px;top:1457px" viewBox="0 0 36 36"><rect x="0" y="0" width="1" height="1" fill="#808080"/><rect x="35" y="35" width="1" height="1" fill="#808080"/><use href="#cl"/><path d="M6.4 16.0 L11.6 15.2 L8.3 22.7 L11.0 23.5 L4.2 33.9 L6.6 25.8 L2.5 25.3 Z" fill="url(#gr)" stroke="#d42c2c" stroke-width="0.6" stroke-linejoin="round"/><path d="M10.6 17.2 Q17.4 24.2 9.3 33.5" fill="none" stroke="#3c3c3c" stroke-width="0.9"/><use href="#dr" x="19.6" y="21.6"/><use href="#dr" x="26.3" y="30.6"/></svg>
<div class="d" style="left:330.08px;top:1501px;transform:scaleX(0.8700)">GÖKGÜRÜLTÜLÜ</div>
<div class="d" style="left:325.73px;top:1514px;transform:scaleX(0.8712)">SAĞANAK YAĞIŞLI</div>
<svg class="one lo" style="left:354.82px;top:1541px" viewBox="0 -11 8 11"><use href="#d1"/></svg>
<div class="lo" style="left:362.25px;top:1537px">2</div>
<div class="hi" style="left:386.92px;top:1537px">20</div>
<svg class="ic" style="left:520px;top:1457px" viewBox="0 0 36 36"><rect x="0" y="0" width="1" height="1" fill="#808080"/><rect x="35" y="35" width="1" height="1" fill="#808080"/><use href="#cl"/><path d="M6.4 16.0 L11.6 15.2 L8.3 22.7 L11.0 23.5 L4.2 33.9 L6.6 25.8 L2.5 25.3 Z" fill="url(#gr)" stroke="#d42c2c" stroke-width="0.6" stroke-linejoin="round"/><path d="M10.6 17.2 Q17.4 24.2 9.3 33.5" fill="none" stroke="#3c3c3c" stroke-width="0.9"/><use href="#dr" x="19.6" y="21.6"/><use href="#dr" x="26.3" y="30.6"/></svg>
<div class="d" style="left:489.83px;top:1501px;transform:scaleX(0.8700)">GÖKGÜRÜLTÜLÜ</div>
<div class="d" style="left:485.48px;top:1514px;transform:scaleX(0.8712)">SAĞANAK YAĞIŞLI</div>
<svg class="one lo" style="left:514.57px;top:1541px" viewBox="0 -11 8 11"><use href="#d1"/></svg>
<div class="lo" style="left:522.00px;top:1537px">3</div>
<div class="hi" style="left:546.67px;top:1537px">20</div>
<svg class="ic" style="left:680px;top:1457px" viewBox="0 0 36 36"><rect x="0" y="0" width="1" height="1" fill="#808080"/><rect x="35" y="35" width="1" height="1" fill="#808080"/><use href="#cl"/><path d="M6.4 16.0 L11.6 15.2 L8.3 22.7 L11.0 23.5 L4.2 33.9 L6.6 25.8 L2.5 25.3 Z" fill="url(#gr)" stroke="#d42c2c" stroke-width="0.6" stroke-linejoin="round"/><path d="M10.6 17.2 Q17.4 24.2 9.3 33.5" fill="none" stroke="#3c3c3c" stroke-width="0.9"/><use href="#dr" x="19.6" y="21.6"/><use href="#dr" x="26.3" y="30.6"/></svg>
<div class="d" style="left:649.58px;top:1501px;transform:scaleX(0.8700)">GÖKGÜRÜLTÜLÜ</div>
<div class="d" style="left:645.23px;top:1514px;transform:scaleX(0.8712)">SAĞANAK YAĞIŞLI</div>
<svg class="one lo" style="left:674.32px;top:1541px" viewBox="0 -11 8 11"><use href="#d1"/></svg>
<svg class="one lo" style="left:681.75px;top:1541px" viewBox="0 -11 8 11"><use href="#d1"/></svg>
<svg class="one hi" style="left:706.42px;top:1541px" viewBox="0 -11 8 11"><use href="#d1"/></svg>
<div class="hi" style="left:713.85px;top:1537px">8</div>
<svg class="ic" style="left:840px;top:1457px" viewBox="0 0 36 36"><rect x="0" y="0" width="1" height="1" fill="#808080"/><rect x="35" y="35" width="1" height="1" fill="#808080"/><use href="#cl"/><path d="M6.4 16.0 L11.6 15.2 L8.3 22.7 L11.0 23.5 L4.2 33.9 L6.6 25.8 L2.5 25.3 Z" fill="url(#gr)" stroke="#d42c2c" stroke-width="0.6" stroke-linejoin="round"/><path d="M10.6 17.2 Q17.4 24.2 9.3 33.5" fill="none" stroke="#3c3c3c" stroke-width="0.9"/><use href="#dr" x="19.6" y="21.6"/><use href="#dr" x="26.3" y="30.6"/></svg>
<div class="d" style="left:809.33px;top:1501px;transform:scaleX(0.8700)">GÖKGÜRÜLTÜLÜ</div>
<div class="d" style="left:804.98px;top:1514px;transform:scaleX(0.8712)">SAĞANAK YAĞIŞLI</div>
<svg class="one lo" style="left:834.07px;top:1541px" viewBox="0 -11 8 11"><use href="#d1"/></svg>
<div class="lo" style="left:841.50px;top:1537px">0</div>
<svg class="one hi" style="left:866.17px;top:1541px" viewBox="0 -11 8 11"><use href="#d1"/></svg>
<div class="hi" style="left:873.60px;top:1537px">8</div>
<div class="a lb" style="left:1px;top:1560px;width:140px;height:107px"></div>
<div class="a cb" style="left:142px;top:1560px;width:159px;height:46px"></div>
<div class="a cb" style="left:142px;top:1644px;width:159px;height:23px"></div>
<div class="a cb" style="left:302px;top:1560px;width:158px;height:46px"></div>
<div class="a cb" style="left:302px;top:1644px;width:158px;height:23px"></div>
<div class="a cb" style="left:461px;top:1560px;width:159px;height:46px"></div>
<div class="a cb" style="left:461px;top:1644px;width:159px;height:23px"></div>
<div class="a cb" style="left:621px;top:1560px;width:159px;height:46px"></div>
<div class="a cb" style="left:621px;top:1644px;width:159px;height:23px"></div>
<div class="a cb" style="left:781px;top:1560px;width:153px;height:46px"></div>
<div class="a cb" style="left:781px;top:1644px;width:153px;height:23px"></div>
<div class="l" style="left:4.96px;top:1603px;transform:scaleX(0.8416)">Kepez</div>
<svg class="ic" style="left:201px;top:1565px" viewBox="0 0 36 36"><rect x="0" y="0" width="1" height="1" fill="#808080"/><rect x="35" y="35" width="1" height="1" fill="#808080"/><use href="#cl"/><use href="#dr" x="14.9" y="15.6"/><use href="#dr" x="26.5" y="12.9"/><use href="#dr" x="6.2" y="30.2"/><use href="#dr" x="17.4" y="27.3"/></svg>
<div class="d" style="left:166.18px;top:1616px;transform:scaleX(0.8712)">SAĞANAK YAĞIŞLI</div>
<svg class="one lo" style="left:195.07px;top:1649px" viewBox="0 -11 8 11"><use href="#d1"/></svg>
<div class="lo" style="left:202.50px;top:1645px">6</div>
<div class="hi" style="left:227.17px;top:1645px">22</div>
<svg class="ic" style="left:360px;top:1565px" viewBox="0 0 36 36"><rect x="0" y="0" width="1" height="1" fill="#808080"/><rect x="35" y="35" width="1" height="1" fill="#808080"/><use href="#cl"/><path d="M6.4 16.0 L11.6 15.2 L8.3 22.7 L11.0 23.5 L4.2 33.9 L6.6 25.8 L2.5 25.3 Z" fill="url(#gr)" stroke="#d42c2c" stroke-width="0.6" stroke-linejoin="round"/><path d="M10.6 17.2 Q17.4 24.2 9.3 33.5" fill="none" stroke="#3c3c3c" stroke-width="0.9"/><use href="#dr" x="19.6" y="21.6"/><use href="#dr" x="26.3" y="30.6"/></svg>
<div class="d" style="left:330.08px;top:1609px;transform:scaleX(0.8700)">GÖKGÜRÜLTÜLÜ</div>
<div class="d" style="left:325.73px;top:1622px;transform:scaleX(0.8712)">SAĞANAK YAĞIŞLI</div>
<svg class="one lo" style="left:354.82px;top:1649px" viewBox="0 -11 8 11"><use href="#d1"/></svg>
<div class="lo" style="left:362.25px;top:1645px">6</div>
<div class="hi" style="left:386.92px;top:1645px">2</div>
<svg class="one hi" style="left:394.35px;top:1649px" viewBox="0 -11 8 11"><use href="#d1"/></svg>
<svg class="ic" style="left:520px;top:1565px" viewBox="0 0 36 36"><rect x="0" y="0" width="1" height="1" fill="#808080"/><rect x="35" y="35" width="1" height="1" fill="#808080"/><use href="#cl"/><path d="M6.4 16.0 L11.6 15.2 L8.3 22.7 L11.0 23.5 L4.2 33.9 L6.6 25.8 L2.5 25.3 Z" fill="url(#gr)" stroke="#d42c2c" stroke-width="0.6" stroke-linejoin="round"/><path d="M10.6 17.2 Q17.4 24.2 9.3 33.5" fill="none" stroke="#3c3c3c" stroke-width="0.9"/><use href="#dr" x="19.6" y="21.6"/><use href="#dr" x="26.3" y="30.6"/></svg>
<div class="d" style="left:489.83px;top:1609px;transform:scaleX(0.8700)">GÖKGÜRÜLTÜLÜ</div>
<div class="d" style="left:485.48px;top:1622px;transform:scaleX(0.8712)">SAĞANAK YAĞIŞLI</div>
<svg class="one lo" style="left:514.57px;top:1649px" viewBox="0 -11 8 11"><use href="#d1"/></svg>
<div class="lo" style="left:522.00px;top:1645px">7</div>
<svg class="one hi" style="left:546.67px;top:1649px" viewBox="0 -11 8 11"><use href="#d1"/></svg>
<div class="hi" style="left:554.10px;top:1645px">9</div>
<svg class="ic" style="left:680px;top:1565px" viewBox="0 0 36 36"><rect x="0" y="0" width="1" height="1" fill="#808080"/><rect x="35" y="35" width="1" height="1" fill="#808080"/><use href="#cl"/><path d="M6.4 16.0 L11.6 15.2 L8.3 22.7 L11.0 23.5 L4.2 33.9 L6.6 25.8 L2.5 25.3 Z" fill="url(#gr)" stroke="#d42c2c" stroke-width="0.6" stroke-linejoin="round"/><path d="M10.6 17.2 Q17.4 24.2 9.3 33.5" fill="none" stroke="#3c3c3c" stroke-width="0.9"/><use href="#dr" x="19.6" y="21.6"/><use href="#dr" x="26.3" y="30.6"/></svg>
<div class="d" style="left:649.58px;top:1609px;transform:scaleX(0.8700)">GÖKGÜRÜLTÜLÜ</div>
<div class="d" style="left:645.23px;top:1622px;transform:scaleX(0.8712)">SAĞANAK YAĞIŞLI</div>
<svg class="one lo" style="left:674.32px;top:1649px" viewBox="0 -11 8 11"><use href="#d1"/></svg>
<div class="lo" style="left:681.75px;top:1645px">6</div>
<svg class="one hi" style="left:706.42px;top:1649px" viewBox="0 -11 8 11"><use href="#d1"/></svg>
<div class="hi" style="left:713.85px;top:1645px">8</div>
<svg class="ic" style="left:840px;top:1565px" viewBox="0 0 36 36"><rect x="0" y="0" width="1" height="1" fill="#808080"/><rect x="35" y="35" width="1" height="1" fill="#808080"/><use href="#cl"/><path d="M6.4 16.0 L11.6 15.2 L8.3 22.7 L11.0 23.5 L4.2 33.9 L6.6 25.8 L2.5 25.3 Z" fill="url(#gr)" stroke="#d42c2c" stroke-width="0.6" stroke-linejoin="round"/><path d="M10.6 17.2 Q17.4 24.2 9.3 33.5" fill="none" stroke="#3c3c3c" stroke-width="0.9"/><use href="#dr" x="19.6" y="21.6"/><use href="#dr" x="26.3" y="30.6"/></svg>
<div class="d" style="left:809.33px;top:1609px;transform:scaleX(0.8700)">GÖKGÜRÜLTÜLÜ</div>
<div class="d" style="left:804.98px;top:1622px;transform:scaleX(0.8712)">SAĞANAK YAĞIŞLI</div>
<svg class="one lo" style="left:834.07px;top:1649px" viewBox="0 -11 8 11"><use href="#d1"/></svg>
<div class="lo" style="left:841.50px;top:1645px">5</div>
<svg class="one hi" style="left:866.17px;top:1649px" viewBox="0 -11 8 11"><use href="#d1"/></svg>
<div class="hi" style="left:873.60px;top:1645px">9</div>
<div class="l" style="left:4.94px;top:1711px;transform:scaleX(0.8545)">Korkuteli</div>
<svg class="ic" style="left:201px;top:1673px" viewBox="0 0 36 36"><rect x="0" y="0" width="1" height="1" fill="#808080"/><rect x="35" y="35" width="1" height="1" fill="#808080"/><ellipse cx="12.2" cy="17.6" rx="4.6" ry="1.6" transform="rotate(-28 12.2 17.6)" fill="#dcdcdc" opacity="0.6"/><use href="#cc"/></svg>
<div class="d" style="left:177.74px;top:1724px;transform:scaleX(0.8674)">ÇOK BULUTLU</div>
<div class="lo" style="left:198.78px;top:1753px">4</div>
<svg class="one hi" style="left:223.45px;top:1757px" viewBox="0 -11 8 11"><use href="#d1"/></svg>
<div class="hi" style="left:230.88px;top:1753px">4</div>
<svg class="ic" style="left:360px;top:1673px" viewBox="0 0 36 36"><rect x="0" y="0" width="1" height="1" fill="#808080"/><rect x="35" y="35" width="1" height="1" fill="#808080"/><ellipse cx="12.2" cy="17.6" rx="4.6" ry="1.6" transform="rotate(-28 12.2 17.6)" fill="#dcdcdc" opacity="0.6"/><use href="#cc"/></svg>
<div class="d" style="left:337.49px;top:1724px;transform:scaleX(0.8674)">ÇOK BULUTLU</div>
<div class="lo" style="left:358.53px;top:1753px">2</div>
<svg class="one hi" style="left:383.20px;top:1757px" viewBox="0 -11 8 11"><use href="#d1"/></svg>
<div class="hi" style="left:390.63px;top:1753px">3</div>
<svg class="ic" style="left:520px;top:1673px" viewBox="0 0 36 36"><rect x="0" y="0" width="1" height="1" fill="#808080"/><rect x="35" y="35" width="1" height="1" fill="#808080"/><use href="#cl"/><path d="M6.4 16.0 L11.6 15.2 L8.3 22.7 L11.0 23.5 L4.2 33.9 L6.6 25.8 L2.5 25.3 Z" fill="url(#gr)" stroke="#d42c2c" stroke-width="0.6" stroke-linejoin="round"/><path d="M10.6 17.2 Q17.4 24.2 9.3 33.5" fill="none" stroke="#3c3c3c" stroke-width="0.9"/><use href="#dr" x="19.6" y="21.6"/><use href="#dr" x="26.3" y="30.6"/></svg>
<div class="d" style="left:489.83px;top:1717px;transform:scaleX(0.8700)">GÖKGÜRÜLTÜLÜ</div>
<div class="d" style="left:485.48px;top:1730px;transform:scaleX(0.8712)">SAĞANAK YAĞIŞLI</div>
<div class="lo" style="left:518.28px;top:1753px">6</div>
<svg class="one hi" style="left:542.95px;top:1757px" viewBox="0 -11 8 11"><use href="#d1"/></svg>
<div class="hi" style="left:550.38px;top:1753px">4</div>
<svg class="ic" style="left:680px;top:1673px" viewBox="0 0 36 36"><rect x="0" y="0" width="1" height="1" fill="#808080"/><rect x="35" y="35" width="1" height="1" fill="#808080"/><use href="#cl"/><path d="M6.4 16.0 L11.6 15.2 L8.3 22.7 L11.0 23.5 L4.2 33.9 L6.6 25.8 L2.5 25.3 Z" fill="url(#gr)" stroke="#d42c2c" stroke-width="0.6" stroke-linejoin="round"/><path d="M10.6 17.2 Q17.4 24.2 9.3 33.5" fill="none" stroke="#3c3c3c" stroke-width="0.9"/><use href="#dr" x="19.6" y="21.6"/><use href="#dr" x="26.3" y="30.6"/></svg>
<div class="d" style="left:649.58px;top:1717px;transform:scaleX(0.8700)">GÖKGÜRÜLTÜLÜ</div>
<div class="d" style="left:645.23px;top:1730px;transform:scaleX(0.8712)">SAĞANAK YAĞIŞLI</div>
<div class="lo" style="left:678.03px;top:1753px">5</div>
<svg class="one hi" style="left:702.70px;top:1757px" viewBox="0 -11 8 11"><use href="#d1"/></svg>
<div class="hi" style="left:710.13px;top:1753px">2</div>
<svg class="ic" style="left:840px;top:1673px" viewBox="0 0 36 36"><rect x="0" y="0" width="1" height="1" fill="#808080"/><rect x="35" y="35" width="1" height="1" fill="#808080"/><ellipse cx="12.2" cy="17.6" rx="4.6" ry="1.6" transform="rotate(-28 12.2 17.6)" fill="#dcdcdc" opacity="0.6"/><use href="#cc"/></svg>
<div class="d" style="left:816.74px;top:1724px;transform:scaleX(0.8674)">ÇOK BULUTLU</div>
<div class="lo" style="left:837.78px;top:1753px">4</div>
<svg class="one hi" style="left:862.45px;top:1757px" viewBox="0 -11 8 11"><use href="#d1"/></svg>
<div class="hi" style="left:869.88px;top:1753px">4</div>
<div class="a lb" style="left:1px;top:1776px;width:140px;height:107px"></div>
<div class="a cb" style="left:142px;top:1776px;width:159px;height:46px"></div>
<div class="a cb" style="left:142px;top:1860px;width:159px;height:23px"></div>
<div class="a cb" style="left:302px;top:1776px;width:158px;height:46px"></div>
<div class="a cb" style="left:302px;top:1860px;width:158px;height:23px"></div>
<div class="a cb" style="left:461px;top:1776px;width:159px;height:46px"></div>
<div class="a cb" style="left:461px;top:1860px;width:159px;height:23px"></div>
<div class="a cb" style="left:621px;top:1776px;width:159px;height:46px"></div>
<div class="a cb" style="left:621px;top:1860px;width:159px;height:23px"></div>
<div class="a cb" style="left:781px;top:1776px;width:153px;height:46px"></div>
<div class="a cb" style="left:781px;top:1860px;width:153px;height:23px"></div>
<div class="l" style="left:4.97px;top:1819px;transform:scaleX(0.8258)">Kumluca</div>
<svg class="ic" style="left:201px;top:1781px" viewBox="0 0 36 36"><rect x="0" y="0" width="1" height="1" fill="#808080"/><rect x="35" y="35" width="1" height="1" fill="#808080"/><ellipse cx="12.2" cy="17.6" rx="4.6" ry="1.6" transform="rotate(-28 12.2 17.6)" fill="#dcdcdc" opacity="0.6"/><use href="#cc"/></svg>
<div class="d" style="left:177.74px;top:1832px;transform:scaleX(0.8674)">ÇOK BULUTLU</div>
<svg class="one lo" style="left:195.07px;top:1865px" viewBox="0 -11 8 11"><use href="#d1"/></svg>
<div class="lo" style="left:202.50px;top:1861px">0</div>
<div class="hi" style="left:227.17px;top:1861px">2</div>
<svg class="one hi" style="left:234.60px;top:1865px" viewBox="0 -11 8 11"><use href="#d1"/></svg>
<svg class="ic" style="left:360px;top:1781px" viewBox="0 0 36 36"><rect x="0" y="0" width="1" height="1" fill="#808080"/><rect x="35" y="35" width="1" height="1" fill="#808080"/><use href="#cl"/><path d="M6.4 16.0 L11.6 15.2 L8.3 22.7 L11.0 23.5 L4.2 33.9 L6.6 25.8 L2.5 25.3 Z" fill="url(#gr)" stroke="#d42c2c" stroke-width="0.6" stroke-linejoin="round"/><path d="M10.6 17.2 Q17.4 24.2 9.3 33.5" fill="none" stroke="#3c3c3c" stroke-width="0.9"/><use href="#dr" x="19.6" y="21.6"/><use href="#dr" x="26.3" y="30.6"/></svg>
<div class="d" style="left:330.08px;top:1825px;transform:scaleX(0.8700)">GÖKGÜRÜLTÜLÜ</div>
<div class="d" style="left:325.73px;top:1838px;transform:scaleX(0.8712)">SAĞANAK YAĞIŞLI</div>
<svg class="one lo" style="left:354.82px;top:1865px" viewBox="0 -11 8 11"><use href="#d1"/></svg>
<div class="lo" style="left:362.25px;top:1861px">0</div>
<div class="hi" style="left:386.92px;top:1861px">2</div>
<svg class="one hi" style="left:394.35px;top:1865px" viewBox="0 -11 8 11"><use href="#d1"/></svg>
<svg class="ic" style="left:520px;top:1781px" viewBox="0 0 36 36"><rect x="0" y="0" width="1" height="1" fill="#808080"/><rect x="35" y="35" width="1" height="1" fill="#808080"/><use href="#cl"/><path d="M6.4 16.0 L11.6 15.2 L8.3 22.7 L11.0 23.5 L4.2 33.9 L6.6 25.8 L2.5 25.3 Z" fill="url(#gr)" stroke="#d42c2c" stroke-width="0.6" stroke-linejoin="round"/><path d="M10.6 17.2 Q17.4 24.2 9.3 33.5" fill="none" stroke="#3c3c3c" stroke-width="0.9"/><use href="#dr" x="19.6" y="21.6"/><use href="#dr" x="26.3" y="30.6"/></svg>
<div class="d" style="left:489.83px;top:1825px;transform:scaleX(0.8700)">GÖKGÜRÜLTÜLÜ</div>
<div class="d" style="left:485.48px;top:1838px;transform:scaleX(0.8712)">SAĞANAK YAĞIŞLI</div>
<svg class="one lo" style="left:514.57px;top:1865px" viewBox="0 -11 8 11"><use href="#d1"/></svg>
<div class="lo" style="left:522.00px;top:1861px">2</div>
<div class="hi" style="left:546.67px;top:1861px">20</div>
<svg class="ic" style="left:680px;top:1781px" viewBox="0 0 36 36"><rect x="0" y="0" width="1" height="1" fill="#808080"/><rect x="35" y="35" width="1" height="1" fill="#808080"/><use href="#cl"/><path d="M6.4 16.0 L11.6 15.2 L8.3 22.7 L11.0 23.5 L4.2 33.9 L6.6 25.8 L2.5 25.3 Z" fill="url(#gr)" stroke="#d42c2c" stroke-width="0.6" stroke-linejoin="round"/><path d="M10.6 17.2 Q17.4 24.2 9.3 33.5" fill="none" stroke="#3c3c3c" stroke-width="0.9"/><use href="#dr" x="19.6" y="21.6"/><use href="#dr" x="26.3" y="30.6"/></svg>
<div class="d" style="left:649.58px;top:1825px;transform:scaleX(0.8700)">GÖKGÜRÜLTÜLÜ</div>
<div class="d" style="left:645.23px;top:1838px;transform:scaleX(0.8712)">SAĞANAK YAĞIŞLI</div>
<svg class="one lo" style="left:674.32px;top:1865px" viewBox="0 -11 8 11"><use href="#d1"/></svg>
<div class="lo" style="left:681.75px;top:1861px">2</div>
<svg class="one hi" style="left:706.42px;top:1865px" viewBox="0 -11 8 11"><use href="#d1"/></svg>
<div class="hi" style="left:713.85px;top:1861px">7</div>
<svg class="ic" style="left:840px;top:1781px" viewBox="0 0 36 36"><rect x="0" y="0" width="1" height="1" fill="#808080"/><rect x="35" y="35" width="1" height="1" fill="#808080"/><use href="#cl"/><path d="M6.4 16.0 L11.6 15.2 L8.3 22.7 L11.0 23.5 L4.2 33.9 L6.6 25.8 L2.5 25.3 Z" fill="url(#gr)" stroke="#d42c2c" stroke-width="0.6" stroke-linejoin="round"/><path d="M10.6 17.2 Q17.4 24.2 9.3 33.5" fill="none" stroke="#3c3c3c" stroke-width="0.9"/><use href="#dr" x="19.6" y="21.6"/><use href="#dr" x="26.3" y="30.6"/></svg>
<div class="d" style="left:809.33px;top:1825px;transform:scaleX(0.8700)">GÖKGÜRÜLTÜLÜ</div>
<div class="d" style="left:804.98px;top:1838px;transform:scaleX(0.8712)">SAĞANAK YAĞIŞLI</div>
<div class="lo" style="left:837.78px;top:1861px">8</div>
<svg class="one hi" style="left:862.45px;top:1865px" viewBox="0 -11 8 11"><use href="#d1"/></svg>
<div class="hi" style="left:869.88px;top:1861px">8</div>
<div class="l" style="left:4.92px;top:1927px;transform:scaleX(0.8800)">Manavgat</div>
<svg class="ic" style="left:201px;top:1889px" viewBox="0 0 36 36"><rect x="0" y="0" width="1" height="1" fill="#808080"/><rect x="35" y="35" width="1" height="1" fill="#808080"/><use href="#cl"/><use href="#dr" x="14.9" y="15.6"/><use href="#dr" x="26.5" y="12.9"/><use href="#dr" x="6.2" y="30.2"/><use href="#dr" x="17.4" y="27.3"/></svg>
<div class="d" style="left:166.18px;top:1939px;transform:scaleX(0.8712)">SAĞANAK YAĞIŞLI</div>
<svg class="one lo" style="left:195.07px;top:1973px" viewBox="0 -11 8 11"><use href="#d1"/></svg>
<div class="lo" style="left:202.50px;top:1969px">5</div>
<div class="hi" style="left:227.17px;top:1969px">2</div>
<svg class="one hi" style="left:234.60px;top:1973px" viewBox="0 -11 8 11"><use href="#d1"/></svg>
<svg class="ic" style="left:360px;top:1889px" viewBox="0 0 36 36"><rect x="0" y="0" width="1" height="1" fill="#808080"/><rect x="35" y="35" width="1" height="1" fill="#808080"/><use href="#cl"/><path d="M6.4 16.0 L11.6 15.2 L8.3 22.7 L11.0 23.5 L4.2 33.9 L6.6 25.8 L2.5 25.3 Z" fill="url(#gr)" stroke="#d42c2c" stroke-width="0.6" stroke-linejoin="round"/><path d="M10.6 17.2 Q17.4 24.2 9.3 33.5" fill="none" stroke="#3c3c3c" stroke-width="0.9"/><use href="#dr" x="19.6" y="21.6"/><use href="#dr" x="26.3" y="30.6"/></svg>
<div class="d" style="left:330.08px;top:1933px;transform:scaleX(0.8700)">GÖKGÜRÜLTÜLÜ</div>
<div class="d" style="left:325.73px;top:1946px;transform:scaleX(0.8712)">SAĞANAK YAĞIŞLI</div>
<svg class="one lo" style="left:354.82px;top:1973px" viewBox="0 -11 8 11"><use href="#d1"/></svg>
<div class="lo" style="left:362.25px;top:1969px">5</div>
<div class="hi" style="left:386.92px;top:1969px">22</div>
<svg class="ic" style="left:520px;top:1889px" viewBox="0 0 36 36"><rect x="0" y="0" width="1" height="1" fill="#808080"/><rect x="35" y="35" width="1" height="1" fill="#808080"/><use href="#cl"/><path d="M6.4 16.0 L11.6 15.2 L8.3 22.7 L11.0 23.5 L4.2 33.9 L6.6 25.8 L2.5 25.3 Z" fill="url(#gr)" stroke="#d42c2c" stroke-width="0.6" stroke-linejoin="round"/><path d="M10.6 17.2 Q17.4 24.2 9.3 33.5" fill="none" stroke="#3c3c3c" stroke-width="0.9"/><use href="#dr" x="19.6" y="21.6"/><use href="#dr" x="26.3" y="30.6"/></svg>
<div class="d" style="left:489.83px;top:1933px;transform:scaleX(0.8700)">GÖKGÜRÜLTÜLÜ</div>
<div class="d" style="left:485.48px;top:1946px;transform:scaleX(0.8712)">SAĞANAK YAĞIŞLI</div>
<svg class="one lo" style="left:514.57px;top:1973px" viewBox="0 -11 8 11"><use href="#d1"/></svg>
<div class="lo" style="left:522.00px;top:1969px">5</div>
<div class="hi" style="left:546.67px;top:1969px">23</div>
<svg class="ic" style="left:680px;top:1889px" viewBox="0 0 36 36"><rect x="0" y="0" width="1" height="1" fill="#808080"/><rect x="35" y="35" width="1" height="1" fill="#808080"/><use href="#cl"/><path d="M6.4 16.0 L11.6 15.2 L8.3 22.7 L11.0 23.5 L4.2 33.9 L6.6 25.8 L2.5 25.3 Z" fill="url(#gr)" stroke="#d42c2c" stroke-width="0.6" stroke-linejoin="round"/><path d="M10.6 17.2 Q17.4 24.2 9.3 33.5" fill="none" stroke="#3c3c3c" stroke-width="0.9"/><use href="#dr" x="19.6" y="21.6"/><use href="#dr" x="26.3" y="30.6"/></svg>
<div class="d" style="left:649.58px;top:1933px;transform:scaleX(0.8700)">GÖKGÜRÜLTÜLÜ</div>
<div class="d" style="left:645.23px;top:1946px;transform:scaleX(0.8712)">SAĞANAK YAĞIŞLI</div>
<svg class="one lo" style="left:674.32px;top:1973px" viewBox="0 -11 8 11"><use href="#d1"/></svg>
<div class="lo" style="left:681.75px;top:1969px">6</div>
<svg class="one hi" style="left:706.42px;top:1973px" viewBox="0 -11 8 11"><use href="#d1"/></svg>
<div class="hi" style="left:713.85px;top:1969px">8</div>
<svg class="ic" style="left:840px;top:1889px" viewBox="0 0 36 36"><rect x="0" y="0" width="1" height="1" fill="#808080"/><rect x="35" y="35" width="1" height="1" fill="#808080"/><use href="#cl"/><path d="M6.4 16.0 L11.6 15.2 L8.3 22.7 L11.0 23.5 L4.2 33.9 L6.6 25.8 L2.5 25.3 Z" fill="url(#gr)" stroke="#d42c2c" stroke-width="0.6" stroke-linejoin="round"/><path d="M10.6 17.2 Q17.4 24.2 9.3 33.5" fill="none" stroke="#3c3c3c" stroke-width="0.9"/><use href="#dr" x="19.6" y="21.6"/><use href="#dr" x="26.3" y="30.6"/></svg>
<div class="d" style="left:809.33px;top:1933px;transform:scaleX(0.8700)">GÖKGÜRÜLTÜLÜ</div>
<div class="d" style="left:804.98px;top:1946px;transform:scaleX(0.8712)">SAĞANAK YAĞIŞLI</div>
<svg class="one lo" style="left:834.07px;top:1973px" viewBox="0 -11 8 11"><use href="#d1"/></svg>
<div class="lo" style="left:841.50px;top:1969px">5</div>
<svg class="one hi" style="left:866.17px;top:1973px" viewBox="0 -11 8 11"><use href="#d1"/></svg>
<div class="hi" style="left:873.60px;top:1969px">9</div>
<div class="a lb" style="left:1px;top:1992px;width:140px;height:107px"></div>
<div class="a cb" style="left:142px;top:1992px;width:159px;height:46px"></div>
<div class="a cb" style="left:142px;top:2076px;width:159px;height:23px"></div>
<div class="a cb" style="left:302px;top:1992px;width:158px;height:46px"></div>
<div class="a cb" style="left:302px;top:2076px;width:158px;height:23px"></div>
<div class="a cb" style="left:461px;top:1992px;width:159px;height:46px"></div>
<div class="a cb" style="left:461px;top:2076px;width:159px;height:23px"></div>
<div class="a cb" style="left:621px;top:1992px;width:159px;height:46px"></div>
<div class="a cb" style="left:621px;top:2076px;width:159px;height:23px"></div>
<div class="a cb" style="left:781px;top:1992px;width:153px;height:46px"></div>
<div class="a cb" style="left:781px;top:2076px;width:153px;height:23px"></div>
<div class="l" style="left:5.44px;top:2035px;transform:scaleX(0.8391)">Saklıkent K.M.</div>
<svg class="ic" style="left:201px;top:1996px" viewBox="0 0 36 36"><rect x="0" y="0" width="1" height="1" fill="#808080"/><rect x="35" y="35" width="1" height="1" fill="#808080"/><ellipse cx="12.2" cy="17.6" rx="4.6" ry="1.6" transform="rotate(-28 12.2 17.6)" fill="#dcdcdc" opacity="0.6"/><use href="#cc"/></svg>
<div class="d" style="left:177.74px;top:2047px;transform:scaleX(0.8674)">ÇOK BULUTLU</div>
<div class="lo" style="left:202.50px;top:2077px">3</div>
<div class="hi" style="left:227.17px;top:2077px">9</div>
<svg class="ic" style="left:360px;top:1996px" viewBox="0 0 36 36"><rect x="0" y="0" width="1" height="1" fill="#808080"/><rect x="35" y="35" width="1" height="1" fill="#808080"/><use href="#cl"/><path d="M6.4 16.0 L11.6 15.2 L8.3 22.7 L11.0 23.5 L4.2 33.9 L6.6 25.8 L2.5 25.3 Z" fill="url(#gr)" stroke="#d42c2c" stroke-width="0.6" stroke-linejoin="round"/><path d="M10.6 17.2 Q17.4 24.2 9.3 33.5" fill="none" stroke="#3c3c3c" stroke-width="0.9"/><use href="#dr" x="19.6" y="21.6"/><use href="#dr" x="26.3" y="30.6"/></svg>
<div class="d" style="left:330.08px;top:2041px;transform:scaleX(0.8700)">GÖKGÜRÜLTÜLÜ</div>
<div class="d" style="left:325.73px;top:2054px;transform:scaleX(0.8712)">SAĞANAK YAĞIŞLI</div>
<div class="lo" style="left:362.25px;top:2077px">3</div>
<div class="hi" style="left:386.92px;top:2077px">9</div>
<svg class="ic" style="left:520px;top:1996px" viewBox="0 0 36 36"><rect x="0" y="0" width="1" height="1" fill="#808080"/><rect x="35" y="35" width="1" height="1" fill="#808080"/><use href="#cl"/><path d="M6.4 16.0 L11.6 15.2 L8.3 22.7 L11.0 23.5 L4.2 33.9 L6.6 25.8 L2.5 25.3 Z" fill="url(#gr)" stroke="#d42c2c" stroke-width="0.6" stroke-linejoin="round"/><path d="M10.6 17.2 Q17.4 24.2 9.3 33.5" fill="none" stroke="#3c3c3c" stroke-width="0.9"/><use href="#dr" x="19.6" y="21.6"/><use href="#dr" x="26.3" y="30.6"/></svg>
<div class="d" style="left:489.83px;top:2041px;transform:scaleX(0.8700)">GÖKGÜRÜLTÜLÜ</div>
<div class="d" style="left:485.48px;top:2054px;transform:scaleX(0.8712)">SAĞANAK YAĞIŞLI</div>
<div class="lo" style="left:522.00px;top:2077px">5</div>
<div class="hi" style="left:546.67px;top:2077px">8</div>
<svg class="ic" style="left:680px;top:1996px" viewBox="0 0 36 36"><rect x="0" y="0" width="1" height="1" fill="#808080"/><rect x="35" y="35" width="1" height="1" fill="#808080"/><use href="#cl"/><path d="M6.4 16.0 L11.6 15.2 L8.3 22.7 L11.0 23.5 L4.2 33.9 L6.6 25.8 L2.5 25.3 Z" fill="url(#gr)" stroke="#d42c2c" stroke-width="0.6" stroke-linejoin="round"/><path d="M10.6 17.2 Q17.4 24.2 9.3 33.5" fill="none" stroke="#3c3c3c" stroke-width="0.9"/><use href="#dr" x="19.6" y="21.6"/><use href="#dr" x="26.3" y="30.6"/></svg>
<div class="d" style="left:649.58px;top:2041px;transform:scaleX(0.8700)">GÖKGÜRÜLTÜLÜ</div>
<div class="d" style="left:645.23px;top:2054px;transform:scaleX(0.8712)">SAĞANAK YAĞIŞLI</div>
<div class="lo" style="left:681.75px;top:2077px">4</div>
<div class="hi" style="left:706.42px;top:2077px">7</div>
<svg class="ic" style="left:840px;top:1996px" viewBox="0 0 36 36"><rect x="0" y="0" width="1" height="1" fill="#808080"/><rect x="35" y="35" width="1" height="1" fill="#808080"/><use href="#cl"/><path d="M6.4 16.0 L11.6 15.2 L8.3 22.7 L11.0 23.5 L4.2 33.9 L6.6 25.8 L2.5 25.3 Z" fill="url(#gr)" stroke="#d42c2c" stroke-width="0.6" stroke-linejoin="round"/><path d="M10.6 17.2 Q17.4 24.2 9.3 33.5" fill="none" stroke="#3c3c3c" stroke-width="0.9"/><use href="#dr" x="19.6" y="21.6"/><use href="#dr" x="26.3" y="30.6"/></svg>
<div class="d" style="left:809.33px;top:2041px;transform:scaleX(0.8700)">GÖKGÜRÜLTÜLÜ</div>
<div class="d" style="left:804.98px;top:2054px;transform:scaleX(0.8712)">SAĞANAK YAĞIŞLI</div>
<div class="lo" style="left:841.50px;top:2077px">2</div>
<div class="hi" style="left:866.17px;top:2077px">7</div>
<div class="l" style="left:5.47px;top:2143px;transform:scaleX(0.7702)">SERIK</div>
<svg class="ic" style="left:201px;top:2104px" viewBox="0 0 36 36"><rect x="0" y="0" width="1" height="1" fill="#808080"/><rect x="35" y="35" width="1" height="1" fill="#808080"/><use href="#cl"/><use href="#dr" x="14.9" y="15.6"/><use href="#dr" x="26.5" y="12.9"/><use href="#dr" x="6.2" y="30.2"/><use href="#dr" x="17.4" y="27.3"/></svg>
<div class="d" style="left:166.18px;top:2155px;transform:scaleX(0.8712)">SAĞANAK YAĞIŞLI</div>
<svg class="one lo" style="left:195.07px;top:2189px" viewBox="0 -11 8 11"><use href="#d1"/></svg>
<div class="lo" style="left:202.50px;top:2185px">5</div>
<div class="hi" style="left:227.17px;top:2185px">20</div>
<svg class="ic" style="left:360px;top:2104px" viewBox="0 0 36 36"><rect x="0" y="0" width="1" height="1" fill="#808080"/><rect x="35" y="35" width="1" height="1" fill="#808080"/><use href="#cl"/><path d="M6.4 16.0 L11.6 15.2 L8.3 22.7 L11.0 23.5 L4.2 33.9 L6.6 25.8 L2.5 25.3 Z" fill="url(#gr)" stroke="#d42c2c" stroke-width="0.6" stroke-linejoin="round"/><path d="M10.6 17.2 Q17.4 24.2 9.3 33.5" fill="none" stroke="#3c3c3c" stroke-width="0.9"/><use href="#dr" x="19.6" y="21.6"/><use href="#dr" x="26.3" y="30.6"/></svg>
<div class="d" style="left:330.08px;top:2149px;transform:scaleX(0.8700)">GÖKGÜRÜLTÜLÜ</div>
<div class="d" style="left:325.73px;top:2162px;transform:scaleX(0.8712)">SAĞANAK YAĞIŞLI</div>
<svg class="one lo" style="left:354.82px;top:2189px" viewBox="0 -11 8 11"><use href="#d1"/></svg>
<div class="lo" style="left:362.25px;top:2185px">5</div>
<svg class="one hi" style="left:386.92px;top:2189px" viewBox="0 -11 8 11"><use href="#d1"/></svg>
<div class="hi" style="left:394.35px;top:2185px">9</div>
<svg class="ic" style="left:520px;top:2104px" viewBox="0 0 36 36"><rect x="0" y="0" width="1" height="1" fill="#808080"/><rect x="35" y="35" width="1" height="1" fill="#808080"/><use href="#cl"/><path d="M6.4 16.0 L11.6 15.2 L8.3 22.7 L11.0 23.5 L4.2 33.9 L6.6 25.8 L2.5 25.3 Z" fill="url(#gr)" stroke="#d42c2c" stroke-width="0.6" stroke-linejoin="round"/><path d="M10.6 17.2 Q17.4 24.2 9.3 33.5" fill="none" stroke="#3c3c3c" stroke-width="0.9"/><use href="#dr" x="19.6" y="21.6"/><use href="#dr" x="26.3" y="30.6"/></svg>
<div class="d" style="left:489.83px;top:2149px;transform:scaleX(0.8700)">GÖKGÜRÜLTÜLÜ</div>
<div class="d" style="left:485.48px;top:2162px;transform:scaleX(0.8712)">SAĞANAK YAĞIŞLI</div>
<svg class="one lo" style="left:514.57px;top:2189px" viewBox="0 -11 8 11"><use href="#d1"/></svg>
<div class="lo" style="left:522.00px;top:2185px">6</div>
<svg class="one hi" style="left:546.67px;top:2189px" viewBox="0 -11 8 11"><use href="#d1"/></svg>
<div class="hi" style="left:554.10px;top:2185px">9</div>
<svg class="ic" style="left:680px;top:2104px" viewBox="0 0 36 36"><rect x="0" y="0" width="1" height="1" fill="#808080"/><rect x="35" y="35" width="1" height="1" fill="#808080"/><use href="#cl"/><path d="M6.4 16.0 L11.6 15.2 L8.3 22.7 L11.0 23.5 L4.2 33.9 L6.6 25.8 L2.5 25.3 Z" fill="url(#gr)" stroke="#d42c2c" stroke-width="0.6" stroke-linejoin="round"/><path d="M10.6 17.2 Q17.4 24.2 9.3 33.5" fill="none" stroke="#3c3c3c" stroke-width="0.9"/><use href="#dr" x="19.6" y="21.6"/><use href="#dr" x="26.3" y="30.6"/></svg>
<div class="d" style="left:649.58px;top:2149px;transform:scaleX(0.8700)">GÖKGÜRÜLTÜLÜ</div>
<div class="d" style="left:645.23px;top:2162px;transform:scaleX(0.8712)">SAĞANAK YAĞIŞLI</div>
<svg class="one lo" style="left:674.32px;top:2189px" viewBox="0 -11 8 11"><use href="#d1"/></svg>
<div class="lo" style="left:681.75px;top:2185px">6</div>
<svg class="one hi" style="left:706.42px;top:2189px" viewBox="0 -11 8 11"><use href="#d1"/></svg>
<div class="hi" style="left:713.85px;top:2185px">7</div>
<svg class="ic" style="left:840px;top:2104px" viewBox="0 0 36 36"><rect x="0" y="0" width="1" height="1" fill="#808080"/><rect x="35" y="35" width="1" height="1" fill="#808080"/><use href="#cl"/><path d="M6.4 16.0 L11.6 15.2 L8.3 22.7 L11.0 23.5 L4.2 33.9 L6.6 25.8 L2.5 25.3 Z" fill="url(#gr)" stroke="#d42c2c" stroke-width="0.6" stroke-linejoin="round"/><path d="M10.6 17.2 Q17.4 24.2 9.3 33.5" fill="none" stroke="#3c3c3c" stroke-width="0.9"/><use href="#dr" x="19.6" y="21.6"/><use href="#dr" x="26.3" y="30.6"/></svg>
<div class="d" style="left:809.33px;top:2149px;transform:scaleX(0.8700)">GÖKGÜRÜLTÜLÜ</div>
<div class="d" style="left:804.98px;top:2162px;transform:scaleX(0.8712)">SAĞANAK YAĞIŞLI</div>
<svg class="one lo" style="left:834.07px;top:2189px" viewBox="0 -11 8 11"><use href="#d1"/></svg>
<div class="lo" style="left:841.50px;top:2185px">5</div>
<svg class="one hi" style="left:866.17px;top:2189px" viewBox="0 -11 8 11"><use href="#d1"/></svg>
<div class="hi" style="left:873.60px;top:2185px">9</div>
</body></html>
